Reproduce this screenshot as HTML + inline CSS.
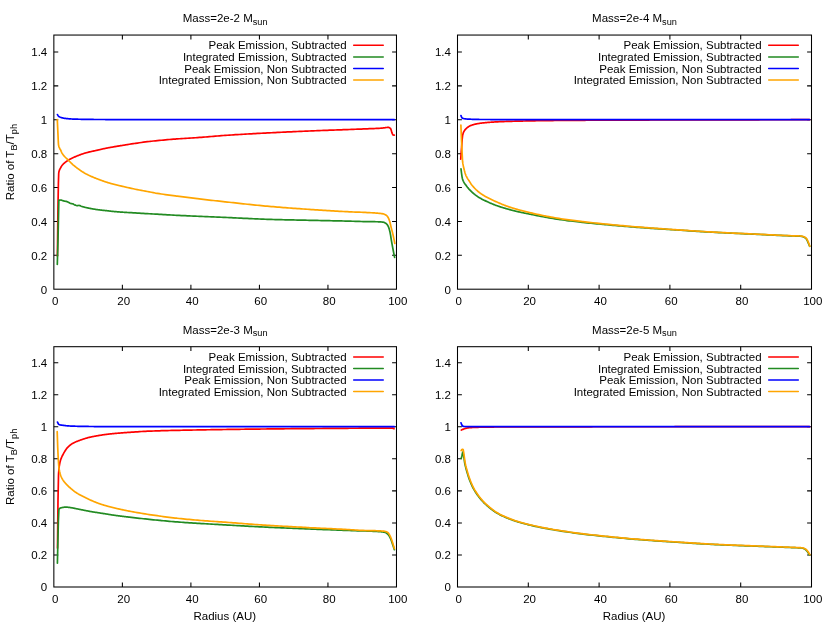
<!DOCTYPE html>
<html><head><meta charset="utf-8"><title>Ratio of TB/Tph</title>
<style>
html,body{margin:0;padding:0;background:#fff;}
svg{display:block;will-change:transform;font-family:"Liberation Sans",sans-serif;font-size:11.5px;fill:#000;}
</style></head>
<body>
<svg width="830" height="623" viewBox="0 0 830 623">
<rect width="830" height="623" fill="#fff" stroke="none"/>
<g><text x="47.25" y="293.60" text-anchor="end">0</text>
<text x="47.25" y="259.71" text-anchor="end">0.2</text>
<text x="47.25" y="225.83" text-anchor="end">0.4</text>
<text x="47.25" y="191.94" text-anchor="end">0.6</text>
<text x="47.25" y="158.05" text-anchor="end">0.8</text>
<text x="47.25" y="124.17" text-anchor="end">1</text>
<text x="47.25" y="90.28" text-anchor="end">1.2</text>
<text x="47.25" y="56.39" text-anchor="end">1.4</text>
<text x="55.15" y="304.70" text-anchor="middle">0</text>
<text x="123.68" y="304.70" text-anchor="middle">20</text>
<text x="192.20" y="304.70" text-anchor="middle">40</text>
<text x="260.73" y="304.70" text-anchor="middle">60</text>
<text x="329.25" y="304.70" text-anchor="middle">80</text>
<text x="397.78" y="304.70" text-anchor="middle">100</text>
<path d="M53.85,255.31h4.4 M396.48,255.31h-4.4 M53.85,221.43h4.4 M396.48,221.43h-4.4 M53.85,187.54h4.4 M396.48,187.54h-4.4 M53.85,153.65h4.4 M396.48,153.65h-4.4 M53.85,119.77h4.4 M396.48,119.77h-4.4 M53.85,85.88h4.4 M396.48,85.88h-4.4 M53.85,51.99h4.4 M396.48,51.99h-4.4 M122.38,289.20v-4.4 M122.38,35.05v4.4 M190.90,289.20v-4.4 M190.90,35.05v4.4 M259.43,289.20v-4.4 M259.43,35.05v4.4 M327.95,289.20v-4.4 M327.95,35.05v4.4" stroke="#000" stroke-width="1.05" fill="none"/>
<path d="M57.40,256.00 L57.90,212.81 L58.10,200.00 L58.40,183.32 L58.70,173.50 L58.90,171.95 L59.00,171.50 L59.40,170.21 L59.90,169.09 L60.40,168.19 L60.50,168.00 L60.90,167.24 L61.40,166.36 L61.90,165.62 L62.00,165.50 L62.40,165.03 L62.90,164.48 L63.40,163.96 L63.90,163.48 L64.40,163.02 L64.90,162.59 L65.40,162.19 L65.90,161.81 L66.40,161.44 L66.90,161.09 L67.40,160.76 L67.90,160.43 L68.10,160.30 L68.40,160.11 L68.90,159.80 L69.40,159.51 L69.90,159.23 L70.40,158.96 L70.90,158.70 L71.40,158.45 L71.90,158.20 L72.40,157.97 L72.90,157.73 L73.40,157.51 L73.90,157.29 L74.10,157.20 L74.40,157.07 L74.90,156.85 L75.40,156.64 L75.90,156.43 L76.40,156.22 L76.90,156.02 L77.40,155.81 L77.90,155.61 L78.40,155.42 L78.90,155.22 L79.40,155.03 L79.90,154.84 L80.40,154.66 L80.90,154.48 L81.40,154.30 L81.90,154.13 L82.40,153.95 L82.90,153.79 L83.40,153.62 L83.90,153.46 L84.40,153.31 L84.90,153.15 L85.40,153.00 L85.90,152.86 L86.10,152.80 L86.40,152.72 L86.90,152.58 L87.40,152.45 L87.90,152.32 L88.40,152.19 L88.90,152.07 L89.40,151.95 L89.90,151.83 L90.40,151.71 L90.90,151.60 L91.40,151.49 L91.90,151.38 L92.40,151.27 L92.90,151.16 L93.40,151.05 L93.90,150.95 L94.40,150.84 L94.90,150.73 L95.40,150.62 L95.90,150.52 L96.40,150.41 L96.90,150.30 L97.40,150.18 L97.90,150.07 L98.20,150.00 L98.40,149.95 L98.90,149.84 L99.40,149.72 L99.90,149.59 L100.40,149.47 L100.90,149.35 L101.40,149.23 L101.90,149.11 L102.40,149.00 L102.90,148.88 L103.40,148.77 L103.90,148.66 L104.20,148.60 L104.40,148.56 L104.90,148.46 L105.40,148.36 L105.90,148.26 L106.40,148.16 L106.90,148.06 L107.40,147.97 L107.90,147.87 L108.40,147.78 L108.90,147.68 L109.40,147.59 L109.90,147.50 L110.40,147.41 L110.90,147.32 L111.40,147.23 L111.90,147.15 L112.40,147.06 L112.90,146.97 L113.40,146.88 L113.90,146.80 L114.40,146.71 L114.90,146.63 L115.40,146.55 L115.90,146.46 L116.40,146.38 L116.90,146.29 L117.40,146.21 L117.90,146.13 L118.40,146.05 L118.90,145.96 L119.40,145.88 L119.90,145.80 L120.40,145.71 L120.90,145.63 L121.40,145.55 L121.90,145.47 L122.30,145.40 L122.40,145.38 L122.90,145.30 L123.40,145.22 L123.90,145.13 L124.40,145.05 L124.90,144.97 L125.40,144.89 L125.90,144.81 L126.40,144.72 L126.90,144.64 L127.40,144.56 L129.40,144.24 L131.40,143.93 L133.40,143.63 L134.30,143.50 L135.40,143.34 L137.40,143.05 L139.40,142.77 L141.40,142.49 L143.40,142.21 L145.40,141.95 L147.40,141.70 L149.40,141.47 L150.00,141.40 L151.40,141.25 L153.40,141.03 L155.40,140.82 L157.40,140.62 L159.40,140.42 L161.40,140.23 L163.40,140.04 L165.40,139.86 L167.40,139.69 L169.40,139.51 L171.40,139.35 L173.40,139.19 L175.40,139.03 L176.50,138.95 L177.40,138.88 L179.40,138.74 L181.40,138.61 L183.40,138.48 L185.40,138.36 L187.40,138.24 L189.40,138.12 L191.40,138.00 L193.40,137.88 L195.40,137.75 L197.40,137.61 L197.60,137.60 L199.40,137.47 L201.40,137.32 L203.40,137.16 L205.40,136.99 L207.40,136.82 L209.40,136.65 L211.40,136.48 L213.40,136.31 L215.40,136.14 L217.40,135.98 L219.40,135.82 L221.40,135.66 L223.40,135.51 L225.00,135.40 L225.40,135.37 L227.40,135.24 L229.40,135.11 L231.40,134.98 L233.40,134.85 L235.40,134.72 L237.40,134.60 L239.40,134.48 L241.40,134.36 L243.40,134.24 L245.40,134.13 L247.40,134.01 L249.40,133.90 L251.40,133.79 L253.40,133.68 L255.40,133.57 L257.40,133.46 L259.40,133.36 L261.40,133.25 L263.40,133.15 L265.40,133.04 L267.20,132.95 L267.40,132.94 L269.40,132.84 L271.40,132.74 L273.40,132.64 L275.40,132.54 L277.40,132.44 L279.40,132.34 L281.40,132.25 L283.40,132.15 L285.40,132.06 L287.40,131.96 L289.40,131.87 L291.40,131.78 L293.40,131.69 L295.40,131.60 L297.40,131.51 L299.40,131.42 L301.40,131.34 L303.40,131.25 L305.40,131.16 L307.40,131.08 L309.30,131.00 L309.40,131.00 L311.40,130.91 L313.40,130.83 L315.40,130.75 L317.40,130.67 L319.40,130.59 L321.40,130.52 L323.40,130.44 L325.40,130.37 L327.40,130.29 L329.40,130.22 L331.40,130.14 L333.40,130.07 L335.40,130.00 L337.40,129.92 L339.40,129.85 L341.40,129.78 L343.40,129.70 L345.40,129.63 L347.40,129.55 L349.40,129.48 L351.40,129.40 L351.50,129.40 L353.40,129.33 L355.40,129.25 L357.40,129.18 L359.40,129.11 L361.40,129.03 L363.40,128.96 L365.40,128.88 L367.40,128.81 L369.40,128.72 L370.00,128.70 L371.40,128.64 L373.40,128.57 L374.30,128.53 L374.80,128.51 L375.30,128.49 L375.80,128.47 L376.30,128.45 L376.80,128.43 L377.30,128.40 L377.80,128.38 L378.30,128.36 L378.80,128.33 L379.30,128.30 L379.80,128.27 L380.30,128.24 L380.80,128.21 L381.00,128.20 L381.30,128.18 L381.80,128.13 L382.30,128.08 L382.80,128.01 L383.30,127.94 L383.80,127.87 L384.30,127.80 L384.80,127.72 L385.30,127.65 L385.80,127.59 L386.30,127.53 L386.80,127.48 L387.30,127.44 L387.80,127.41 L388.30,127.40 L388.40,127.40 L388.80,127.45 L389.30,127.63 L389.80,127.93 L390.30,128.32 L390.50,128.50 L390.80,129.00 L391.30,130.56 L391.80,132.37 L392.20,133.50 L392.30,133.72 L392.80,134.73 L393.00,134.90 L393.30,134.98 L393.80,135.07 L394.30,135.10" fill="none" stroke="#ff0000" stroke-width="1.7" stroke-linejoin="round" stroke-linecap="round"/>
<path d="M57.30,264.40 L57.80,247.20 L58.10,235.70 L58.30,225.72 L58.80,201.41 L58.90,200.30 L59.30,200.18 L59.80,200.08 L60.30,200.03 L60.80,200.00 L61.00,200.00 L61.30,200.03 L61.80,200.19 L62.30,200.42 L62.80,200.66 L63.20,200.80 L63.30,200.83 L63.80,200.95 L64.30,201.05 L64.80,201.14 L65.30,201.23 L65.80,201.33 L66.30,201.44 L66.80,201.58 L66.85,201.60 L67.30,201.78 L67.80,202.04 L68.30,202.30 L68.80,202.57 L69.30,202.85 L69.80,203.12 L70.30,203.34 L70.50,203.40 L70.80,203.47 L71.30,203.56 L71.80,203.64 L72.30,203.73 L72.60,203.80 L72.80,203.86 L73.30,204.09 L73.80,204.38 L74.30,204.66 L74.80,204.90 L75.30,205.11 L75.80,205.32 L76.30,205.49 L76.80,205.59 L77.00,205.60 L77.30,205.59 L77.80,205.55 L78.30,205.50 L78.80,205.46 L79.10,205.45 L79.30,205.46 L79.80,205.60 L80.30,205.84 L80.80,206.09 L81.30,206.30 L81.80,206.46 L82.30,206.61 L82.80,206.76 L83.30,206.89 L83.80,207.03 L84.30,207.15 L84.80,207.28 L84.90,207.30 L85.30,207.40 L85.80,207.51 L86.30,207.63 L86.80,207.74 L87.30,207.85 L87.80,207.95 L88.30,208.06 L88.80,208.16 L89.30,208.26 L89.80,208.36 L90.30,208.45 L90.80,208.55 L91.30,208.64 L91.80,208.73 L92.20,208.80 L92.30,208.82 L92.80,208.90 L93.30,208.99 L93.80,209.07 L94.30,209.15 L94.80,209.24 L95.30,209.31 L95.80,209.39 L96.30,209.47 L96.80,209.54 L97.30,209.61 L97.80,209.69 L98.30,209.75 L98.80,209.82 L99.30,209.89 L99.40,209.90 L99.80,209.95 L100.30,210.01 L100.80,210.07 L101.30,210.13 L101.80,210.19 L102.30,210.24 L102.80,210.30 L103.30,210.35 L103.80,210.40 L104.30,210.46 L104.80,210.51 L105.30,210.56 L105.80,210.61 L106.30,210.67 L106.60,210.70 L106.80,210.72 L107.30,210.78 L107.80,210.83 L108.30,210.89 L108.80,210.95 L109.30,211.00 L109.80,211.06 L110.30,211.12 L110.80,211.17 L111.30,211.23 L111.80,211.29 L112.30,211.34 L112.80,211.39 L113.30,211.45 L113.80,211.50 L114.30,211.55 L114.80,211.59 L115.30,211.64 L115.80,211.68 L116.00,211.70 L116.30,211.72 L116.80,211.77 L117.30,211.81 L117.80,211.84 L118.30,211.88 L118.80,211.92 L119.30,211.96 L119.80,211.99 L120.30,212.03 L120.80,212.07 L121.30,212.10 L121.80,212.13 L122.30,212.17 L122.80,212.20 L123.30,212.23 L123.80,212.27 L124.30,212.30 L124.80,212.33 L125.30,212.36 L125.80,212.39 L126.30,212.42 L126.80,212.45 L127.30,212.48 L129.30,212.60 L131.30,212.72 L133.30,212.84 L134.30,212.90 L135.30,212.96 L137.30,213.08 L139.30,213.20 L141.30,213.31 L143.30,213.42 L145.30,213.54 L147.30,213.65 L149.30,213.76 L151.30,213.87 L153.30,213.98 L155.30,214.09 L155.40,214.10 L157.30,214.21 L159.30,214.33 L161.30,214.44 L163.30,214.56 L165.30,214.68 L167.30,214.80 L169.30,214.91 L171.30,215.02 L173.30,215.13 L175.30,215.24 L176.50,215.30 L177.30,215.34 L179.30,215.44 L181.30,215.53 L183.30,215.62 L185.30,215.72 L187.30,215.80 L189.30,215.89 L191.30,215.98 L193.30,216.06 L195.30,216.15 L197.30,216.24 L197.60,216.25 L199.30,216.32 L201.30,216.41 L203.30,216.49 L205.30,216.58 L207.30,216.66 L209.30,216.74 L211.30,216.83 L213.30,216.91 L215.30,216.99 L217.30,217.07 L219.30,217.16 L221.30,217.24 L223.30,217.33 L225.00,217.40 L225.30,217.41 L227.30,217.50 L229.30,217.59 L231.30,217.69 L233.30,217.78 L235.30,217.88 L237.30,217.98 L239.30,218.08 L241.30,218.18 L243.30,218.28 L245.30,218.38 L247.30,218.47 L249.30,218.57 L251.30,218.66 L253.30,218.76 L255.30,218.85 L257.30,218.93 L259.30,219.01 L261.30,219.09 L263.30,219.17 L265.30,219.24 L267.20,219.30 L267.30,219.30 L269.30,219.36 L271.30,219.42 L273.30,219.48 L275.30,219.53 L277.30,219.59 L279.30,219.64 L281.30,219.68 L283.30,219.73 L285.30,219.78 L287.30,219.82 L289.30,219.87 L291.30,219.91 L293.30,219.96 L295.30,220.00 L297.30,220.04 L299.30,220.08 L301.30,220.13 L303.30,220.17 L305.30,220.21 L307.30,220.26 L309.30,220.30 L309.30,220.30 L311.30,220.34 L313.30,220.39 L315.30,220.43 L317.30,220.47 L319.30,220.51 L321.30,220.55 L323.30,220.59 L325.30,220.63 L327.30,220.67 L329.30,220.71 L331.30,220.75 L333.30,220.79 L335.30,220.83 L337.30,220.87 L339.30,220.91 L341.30,220.96 L343.30,221.00 L345.30,221.05 L347.30,221.09 L349.30,221.14 L351.30,221.19 L351.50,221.20 L353.30,221.25 L355.30,221.32 L357.30,221.39 L359.30,221.46 L361.30,221.52 L363.30,221.57 L364.50,221.60 L365.30,221.61 L367.30,221.64 L369.30,221.66 L371.30,221.68 L373.30,221.70 L374.60,221.72 L375.10,221.72 L375.60,221.73 L376.10,221.74 L376.60,221.75 L377.10,221.76 L377.60,221.77 L378.10,221.78 L378.60,221.79 L378.90,221.80 L379.10,221.81 L379.60,221.83 L380.10,221.85 L380.60,221.89 L381.10,221.93 L381.60,221.98 L382.10,222.03 L382.60,222.10 L383.10,222.17 L383.30,222.20 L383.60,222.26 L384.10,222.41 L384.60,222.62 L385.10,222.88 L385.60,223.18 L386.10,223.53 L386.20,223.60 L386.60,223.95 L387.10,224.53 L387.60,225.25 L388.10,226.12 L388.30,226.50 L388.60,227.17 L389.10,228.62 L389.60,230.41 L389.80,231.20 L390.10,232.59 L390.60,235.48 L391.10,238.68 L391.60,241.70 L392.10,244.44 L392.60,247.13 L393.10,249.77 L393.60,252.35 L394.10,254.86 L394.60,257.30" fill="none" stroke="#228b22" stroke-width="1.7" stroke-linejoin="round" stroke-linecap="round"/>
<path d="M57.45,114.60 L57.95,115.43 L58.40,116.00 L58.45,116.05 L58.95,116.49 L59.45,116.82 L59.60,116.90 L59.95,117.07 L60.45,117.29 L60.95,117.48 L61.45,117.64 L61.95,117.79 L62.00,117.80 L62.45,117.91 L62.95,118.03 L63.45,118.13 L63.95,118.22 L64.45,118.29 L64.50,118.30 L64.95,118.36 L65.45,118.43 L65.95,118.49 L66.45,118.55 L66.95,118.61 L67.45,118.66 L67.95,118.71 L68.45,118.76 L68.95,118.80 L69.45,118.85 L69.95,118.88 L70.45,118.92 L70.95,118.95 L71.45,118.99 L71.70,119.00 L71.95,119.01 L72.45,119.04 L72.95,119.06 L73.45,119.09 L73.95,119.11 L74.45,119.12 L74.95,119.14 L75.30,119.15 L75.45,119.15 L75.95,119.17 L76.45,119.18 L76.95,119.19 L77.45,119.20 L77.95,119.21 L78.45,119.23 L78.95,119.24 L79.45,119.25 L79.95,119.26 L80.45,119.27 L80.95,119.28 L81.45,119.29 L81.95,119.30 L82.45,119.31 L82.95,119.32 L83.45,119.33 L83.95,119.34 L84.45,119.35 L84.95,119.36 L85.45,119.37 L85.95,119.37 L86.45,119.38 L86.95,119.39 L87.45,119.40 L87.95,119.41 L88.45,119.41 L88.95,119.42 L89.45,119.43 L89.95,119.43 L90.45,119.44 L90.95,119.45 L91.45,119.45 L91.95,119.46 L92.45,119.46 L92.95,119.47 L93.45,119.47 L93.95,119.48 L94.45,119.48 L94.95,119.48 L95.45,119.49 L95.95,119.49 L96.45,119.49 L96.95,119.50 L97.45,119.50 L97.95,119.50 L98.00,119.50 L98.45,119.50 L98.95,119.50 L99.45,119.51 L99.95,119.51 L100.45,119.51 L100.95,119.51 L101.45,119.51 L101.95,119.51 L102.45,119.52 L102.95,119.52 L103.45,119.52 L103.95,119.52 L104.45,119.52 L104.95,119.52 L105.45,119.53 L105.95,119.53 L106.45,119.53 L106.95,119.53 L107.45,119.53 L107.95,119.53 L108.45,119.54 L108.95,119.54 L109.45,119.54 L109.95,119.54 L110.45,119.54 L110.95,119.54 L111.45,119.54 L111.95,119.55 L112.45,119.55 L112.95,119.55 L113.45,119.55 L113.95,119.55 L114.45,119.55 L114.95,119.55 L115.45,119.56 L115.95,119.56 L116.45,119.56 L116.95,119.56 L117.45,119.56 L117.95,119.56 L118.45,119.56 L118.95,119.56 L119.45,119.57 L119.95,119.57 L120.45,119.57 L120.95,119.57 L121.45,119.57 L121.95,119.57 L122.45,119.57 L122.95,119.57 L123.45,119.57 L123.95,119.57 L124.45,119.58 L124.95,119.58 L125.45,119.58 L125.95,119.58 L126.45,119.58 L126.95,119.58 L127.45,119.58 L129.45,119.58 L131.45,119.59 L133.45,119.59 L135.45,119.59 L137.45,119.59 L139.45,119.60 L141.45,119.60 L143.45,119.60 L145.45,119.60 L147.45,119.60 L149.45,119.60 L150.00,119.60 L151.45,119.60 L153.45,119.60 L155.45,119.60 L157.45,119.60 L159.45,119.60 L161.45,119.60 L163.45,119.60 L165.45,119.60 L167.45,119.60 L169.45,119.60 L171.45,119.60 L173.45,119.60 L175.45,119.60 L177.45,119.60 L179.45,119.60 L181.45,119.60 L183.45,119.60 L185.45,119.60 L187.45,119.60 L189.45,119.60 L191.45,119.60 L193.45,119.60 L195.45,119.60 L197.45,119.60 L199.45,119.60 L201.45,119.60 L203.45,119.60 L205.45,119.60 L207.45,119.60 L209.45,119.60 L211.45,119.60 L213.45,119.60 L215.45,119.60 L217.45,119.60 L219.45,119.60 L221.45,119.60 L223.45,119.60 L225.45,119.60 L227.45,119.60 L229.45,119.60 L231.45,119.60 L233.45,119.60 L235.45,119.60 L237.45,119.60 L239.45,119.60 L241.45,119.60 L243.45,119.60 L245.45,119.60 L247.45,119.60 L249.45,119.60 L251.45,119.60 L253.45,119.60 L255.45,119.60 L257.45,119.60 L259.45,119.60 L261.45,119.60 L263.45,119.60 L265.45,119.60 L267.45,119.60 L269.45,119.60 L271.45,119.60 L273.45,119.60 L275.45,119.60 L277.45,119.60 L279.45,119.60 L281.45,119.60 L283.45,119.60 L285.45,119.60 L287.45,119.60 L289.45,119.60 L291.45,119.60 L293.45,119.60 L295.45,119.60 L297.45,119.60 L299.45,119.60 L301.45,119.60 L303.45,119.60 L305.45,119.60 L307.45,119.60 L309.45,119.60 L311.45,119.60 L313.45,119.60 L315.45,119.60 L317.45,119.60 L319.45,119.60 L321.45,119.60 L323.45,119.60 L325.45,119.60 L327.45,119.60 L329.45,119.60 L331.45,119.60 L333.45,119.60 L335.45,119.60 L337.45,119.60 L339.45,119.60 L341.45,119.60 L343.45,119.60 L345.45,119.60 L347.45,119.60 L349.45,119.60 L351.45,119.60 L353.45,119.60 L355.45,119.60 L357.45,119.60 L359.45,119.60 L361.45,119.60 L363.45,119.60 L365.45,119.60 L367.45,119.60 L369.45,119.60 L371.45,119.60 L373.45,119.60 L374.30,119.60 L374.80,119.60 L375.30,119.60 L375.80,119.60 L376.30,119.60 L376.80,119.60 L377.30,119.60 L377.80,119.60 L378.30,119.60 L378.80,119.60 L379.30,119.60 L379.80,119.60 L380.30,119.60 L380.80,119.60 L381.30,119.60 L381.80,119.60 L382.30,119.60 L382.80,119.60 L383.30,119.60 L383.80,119.60 L384.30,119.60 L384.80,119.60 L385.30,119.60 L385.80,119.60 L386.30,119.60 L386.80,119.60 L387.30,119.60 L387.80,119.60 L388.30,119.60 L388.80,119.60 L389.30,119.60 L389.80,119.60 L390.30,119.60 L390.80,119.60 L391.30,119.60 L391.80,119.60 L392.30,119.60 L392.80,119.60 L393.30,119.60 L393.80,119.60 L394.30,119.60" fill="none" stroke="#0000ff" stroke-width="1.7" stroke-linejoin="round" stroke-linecap="round"/>
<path d="M57.30,119.60 L57.80,130.69 L58.00,134.90 L58.30,141.93 L58.50,144.80 L58.80,146.16 L59.30,147.71 L59.80,148.68 L60.30,149.45 L60.80,150.40 L61.30,151.61 L61.80,152.74 L62.00,153.10 L62.30,153.57 L62.80,154.31 L63.30,154.99 L63.80,155.62 L64.30,156.20 L64.80,156.74 L65.30,157.26 L65.80,157.75 L66.30,158.24 L66.80,158.72 L67.30,159.20 L67.80,159.69 L68.10,160.00 L68.30,160.21 L68.80,160.72 L69.30,161.23 L69.80,161.74 L70.30,162.23 L70.80,162.73 L71.30,163.21 L71.80,163.68 L72.30,164.15 L72.80,164.60 L73.30,165.03 L73.80,165.45 L74.10,165.70 L74.30,165.86 L74.80,166.26 L75.30,166.66 L75.80,167.05 L76.30,167.44 L76.80,167.82 L77.30,168.20 L77.80,168.57 L78.30,168.94 L78.80,169.30 L79.30,169.66 L79.80,170.01 L80.30,170.35 L80.80,170.69 L81.30,171.03 L81.80,171.35 L82.30,171.68 L82.80,171.99 L83.30,172.30 L83.80,172.60 L84.30,172.90 L84.80,173.18 L85.30,173.47 L85.80,173.74 L86.10,173.90 L86.30,174.01 L86.80,174.27 L87.30,174.52 L87.80,174.78 L88.30,175.02 L88.80,175.27 L89.30,175.50 L89.80,175.74 L90.30,175.97 L90.80,176.20 L91.30,176.42 L91.80,176.64 L92.30,176.86 L92.80,177.07 L93.30,177.28 L93.80,177.49 L94.30,177.69 L94.80,177.90 L95.30,178.10 L95.80,178.29 L96.30,178.49 L96.80,178.69 L97.30,178.88 L97.80,179.07 L98.30,179.26 L98.80,179.45 L99.30,179.64 L99.80,179.83 L100.00,179.90 L100.30,180.01 L100.80,180.20 L101.30,180.38 L101.80,180.56 L102.30,180.74 L102.80,180.92 L103.30,181.10 L103.80,181.27 L104.30,181.44 L104.80,181.61 L105.30,181.78 L105.80,181.94 L106.30,182.11 L106.80,182.27 L107.30,182.43 L107.80,182.58 L108.30,182.74 L108.80,182.89 L109.30,183.04 L109.80,183.18 L110.20,183.30 L110.30,183.33 L110.80,183.47 L111.30,183.61 L111.80,183.74 L112.30,183.88 L112.80,184.01 L113.30,184.14 L113.80,184.27 L114.30,184.40 L114.80,184.52 L115.30,184.64 L115.80,184.77 L116.30,184.89 L116.80,185.01 L117.30,185.13 L117.80,185.25 L118.30,185.36 L118.80,185.48 L119.30,185.60 L119.80,185.71 L120.30,185.83 L120.80,185.95 L121.30,186.07 L121.80,186.18 L122.30,186.30 L122.80,186.42 L123.30,186.54 L123.80,186.65 L124.30,186.77 L124.80,186.89 L125.30,187.00 L125.80,187.12 L126.30,187.24 L126.80,187.35 L127.30,187.46 L129.30,187.92 L131.30,188.36 L133.30,188.79 L134.30,189.00 L135.30,189.21 L137.30,189.60 L139.30,189.99 L141.30,190.37 L143.30,190.74 L145.30,191.11 L147.30,191.49 L149.30,191.87 L150.00,192.00 L151.30,192.26 L153.30,192.66 L155.30,193.03 L155.40,193.05 L157.30,193.36 L159.30,193.68 L161.30,193.98 L163.30,194.27 L165.30,194.56 L167.30,194.83 L169.30,195.10 L171.30,195.36 L173.30,195.63 L175.30,195.89 L176.50,196.05 L177.30,196.16 L179.30,196.42 L181.30,196.68 L183.30,196.94 L185.30,197.19 L187.30,197.44 L189.30,197.69 L191.30,197.94 L193.30,198.18 L195.30,198.42 L197.30,198.66 L197.60,198.70 L199.30,198.90 L201.30,199.14 L203.30,199.37 L205.30,199.60 L207.30,199.83 L209.30,200.06 L211.30,200.29 L213.30,200.51 L215.30,200.73 L217.30,200.96 L219.30,201.18 L221.30,201.40 L223.30,201.61 L225.00,201.80 L225.30,201.83 L227.30,202.05 L229.30,202.27 L231.30,202.49 L233.30,202.71 L235.30,202.93 L237.30,203.15 L239.30,203.37 L241.30,203.59 L243.30,203.81 L245.30,204.02 L247.30,204.24 L249.30,204.45 L251.30,204.66 L253.30,204.87 L255.30,205.07 L257.30,205.27 L259.30,205.47 L261.30,205.66 L263.30,205.85 L265.30,206.03 L267.20,206.20 L267.30,206.21 L269.30,206.38 L271.30,206.55 L273.30,206.72 L275.30,206.89 L277.30,207.05 L279.30,207.22 L281.30,207.38 L283.30,207.53 L285.30,207.69 L287.30,207.84 L289.30,207.99 L291.30,208.14 L293.30,208.29 L295.30,208.43 L297.30,208.57 L299.30,208.72 L301.30,208.86 L303.30,208.99 L305.30,209.13 L307.30,209.27 L309.30,209.40 L309.30,209.40 L311.30,209.53 L313.30,209.67 L315.30,209.80 L317.30,209.93 L319.30,210.06 L321.30,210.19 L323.30,210.32 L325.30,210.45 L327.30,210.57 L329.30,210.70 L331.30,210.82 L333.30,210.94 L335.30,211.06 L337.30,211.17 L339.30,211.28 L341.30,211.39 L343.30,211.50 L345.30,211.60 L347.30,211.70 L349.30,211.80 L351.30,211.89 L351.50,211.90 L353.30,211.98 L355.30,212.05 L357.30,212.12 L359.30,212.19 L361.30,212.26 L363.30,212.35 L364.50,212.40 L365.30,212.44 L367.30,212.53 L369.30,212.64 L371.30,212.75 L373.30,212.87 L374.80,212.97 L375.30,213.01 L375.80,213.04 L376.30,213.08 L376.80,213.12 L377.30,213.16 L377.80,213.20 L378.30,213.25 L378.80,213.29 L378.90,213.30 L379.30,213.34 L379.80,213.39 L380.30,213.44 L380.80,213.49 L381.30,213.56 L381.80,213.63 L382.30,213.71 L382.80,213.80 L383.30,213.90 L383.80,214.03 L384.30,214.20 L384.80,214.41 L385.30,214.65 L385.80,214.94 L386.20,215.20 L386.30,215.27 L386.80,215.71 L387.30,216.29 L387.80,216.99 L388.30,217.80 L388.80,218.86 L389.30,220.23 L389.80,221.80 L390.30,223.70 L390.80,225.90 L391.20,227.60 L391.30,228.00 L391.80,229.89 L392.30,231.78 L392.70,233.40 L392.80,233.83 L393.30,236.05 L393.80,238.40 L394.30,240.89 L394.80,243.50" fill="none" stroke="#ffa500" stroke-width="1.7" stroke-linejoin="round" stroke-linecap="round"/>
<rect x="53.85" y="35.05" width="342.63" height="254.15" fill="none" stroke="#000" stroke-width="1.05"/>
<text x="225.17" y="22.05" text-anchor="middle">Mass=2e-2 M<tspan dy="2.6" font-size="9.20">sun</tspan></text>
<text x="346.58" y="49.45" text-anchor="end">Peak Emission, Subtracted</text>
<path d="M353.68,45.35H383.28" stroke="#ff0000" stroke-width="1.5" stroke-linecap="round" fill="none"/>
<text x="346.58" y="60.98" text-anchor="end">Integrated Emission, Subtracted</text>
<path d="M353.68,56.88H383.28" stroke="#228b22" stroke-width="1.5" stroke-linecap="round" fill="none"/>
<text x="346.58" y="72.51" text-anchor="end">Peak Emission, Non Subtracted</text>
<path d="M353.68,68.41H383.28" stroke="#0000ff" stroke-width="1.5" stroke-linecap="round" fill="none"/>
<text x="346.58" y="84.04" text-anchor="end">Integrated Emission, Non Subtracted</text>
<path d="M353.68,79.94H383.28" stroke="#ffa500" stroke-width="1.5" stroke-linecap="round" fill="none"/>
<text transform="translate(14.4,162.12) rotate(-90)" text-anchor="middle">Ratio of T<tspan dy="2.6" font-size="9.20">B</tspan><tspan dy="-2.6">/T</tspan><tspan dy="2.6" font-size="9.20">ph</tspan></text></g>
<g><text x="450.90" y="293.60" text-anchor="end">0</text>
<text x="450.90" y="259.71" text-anchor="end">0.2</text>
<text x="450.90" y="225.83" text-anchor="end">0.4</text>
<text x="450.90" y="191.94" text-anchor="end">0.6</text>
<text x="450.90" y="158.05" text-anchor="end">0.8</text>
<text x="450.90" y="124.17" text-anchor="end">1</text>
<text x="450.90" y="90.28" text-anchor="end">1.2</text>
<text x="450.90" y="56.39" text-anchor="end">1.4</text>
<text x="458.80" y="304.70" text-anchor="middle">0</text>
<text x="529.60" y="304.70" text-anchor="middle">20</text>
<text x="600.40" y="304.70" text-anchor="middle">40</text>
<text x="671.20" y="304.70" text-anchor="middle">60</text>
<text x="742.00" y="304.70" text-anchor="middle">80</text>
<text x="812.80" y="304.70" text-anchor="middle">100</text>
<path d="M457.50,255.31h4.4 M811.50,255.31h-4.4 M457.50,221.43h4.4 M811.50,221.43h-4.4 M457.50,187.54h4.4 M811.50,187.54h-4.4 M457.50,153.65h4.4 M811.50,153.65h-4.4 M457.50,119.77h4.4 M811.50,119.77h-4.4 M457.50,85.88h4.4 M811.50,85.88h-4.4 M457.50,51.99h4.4 M811.50,51.99h-4.4 M528.30,289.20v-4.4 M528.30,35.05v4.4 M599.10,289.20v-4.4 M599.10,35.05v4.4 M669.90,289.20v-4.4 M669.90,35.05v4.4 M740.70,289.20v-4.4 M740.70,35.05v4.4" stroke="#000" stroke-width="1.05" fill="none"/>
<path d="M460.70,159.20 L461.20,152.36 L461.60,147.20 L461.70,145.90 L462.20,139.04 L462.60,135.40 L462.70,134.94 L463.20,133.14 L463.70,131.95 L464.00,131.40 L464.20,131.07 L464.70,130.30 L465.20,129.63 L465.70,129.05 L466.20,128.53 L466.70,128.07 L467.20,127.67 L467.70,127.30 L468.20,126.96 L468.70,126.64 L469.20,126.34 L469.70,126.07 L470.20,125.81 L470.70,125.57 L471.20,125.36 L471.70,125.17 L472.20,124.99 L472.50,124.90 L472.70,124.84 L473.20,124.70 L473.70,124.56 L474.20,124.43 L474.70,124.30 L475.20,124.18 L475.70,124.06 L476.20,123.95 L476.70,123.85 L477.20,123.74 L477.70,123.65 L478.20,123.56 L478.70,123.47 L479.20,123.39 L479.70,123.31 L480.20,123.24 L480.70,123.17 L481.20,123.11 L481.70,123.05 L482.10,123.00 L482.20,122.99 L482.70,122.93 L483.20,122.88 L483.70,122.83 L484.20,122.78 L484.70,122.73 L485.20,122.68 L485.70,122.63 L486.20,122.59 L486.70,122.54 L487.20,122.50 L487.70,122.46 L488.20,122.42 L488.70,122.38 L489.20,122.34 L489.70,122.30 L490.20,122.26 L490.70,122.23 L491.20,122.19 L491.70,122.16 L492.20,122.12 L492.70,122.09 L493.20,122.06 L493.70,122.03 L494.20,122.00 L494.70,121.97 L495.20,121.94 L495.70,121.92 L496.20,121.89 L496.70,121.86 L497.20,121.84 L497.70,121.81 L498.20,121.79 L498.70,121.77 L499.20,121.74 L499.70,121.72 L500.20,121.70 L500.70,121.68 L501.20,121.66 L501.70,121.64 L502.20,121.62 L502.70,121.60 L503.20,121.58 L503.70,121.56 L504.20,121.54 L504.70,121.52 L505.20,121.51 L505.70,121.49 L506.20,121.47 L506.70,121.46 L507.20,121.44 L507.70,121.42 L508.20,121.41 L508.70,121.39 L509.20,121.38 L509.70,121.36 L510.20,121.34 L510.70,121.33 L511.20,121.32 L511.70,121.30 L512.20,121.29 L512.70,121.27 L513.20,121.26 L513.70,121.25 L514.20,121.23 L514.70,121.22 L515.20,121.21 L515.70,121.20 L516.20,121.18 L516.70,121.17 L517.20,121.16 L517.70,121.15 L518.20,121.13 L518.70,121.12 L519.20,121.11 L519.70,121.10 L520.20,121.09 L520.70,121.08 L521.20,121.07 L521.70,121.06 L522.20,121.04 L522.70,121.03 L523.20,121.02 L523.70,121.01 L524.20,121.00 L524.30,121.00 L524.70,120.99 L525.20,120.98 L525.70,120.97 L526.20,120.96 L526.70,120.95 L527.20,120.94 L527.70,120.93 L528.20,120.92 L528.70,120.91 L529.20,120.90 L529.70,120.89 L530.20,120.88 L530.70,120.87 L532.70,120.83 L534.70,120.80 L536.70,120.76 L538.70,120.73 L540.70,120.70 L542.70,120.67 L544.70,120.64 L546.70,120.61 L548.70,120.59 L550.70,120.56 L552.00,120.55 L552.70,120.54 L554.70,120.52 L556.70,120.50 L558.70,120.48 L560.70,120.46 L562.70,120.45 L564.70,120.43 L566.70,120.41 L568.70,120.40 L570.70,120.38 L572.70,120.36 L574.70,120.35 L576.70,120.33 L578.70,120.32 L580.70,120.31 L582.70,120.29 L584.70,120.28 L586.70,120.27 L588.70,120.26 L590.70,120.25 L592.70,120.24 L594.70,120.23 L596.70,120.22 L598.70,120.21 L600.00,120.20 L600.70,120.20 L602.70,120.19 L604.70,120.18 L606.70,120.17 L608.70,120.16 L610.70,120.15 L612.70,120.15 L614.70,120.14 L616.70,120.13 L618.70,120.12 L620.70,120.12 L622.70,120.11 L624.70,120.10 L626.70,120.10 L628.70,120.09 L630.70,120.08 L632.70,120.07 L634.70,120.07 L636.70,120.06 L638.70,120.06 L640.70,120.05 L642.70,120.04 L644.70,120.04 L646.70,120.03 L648.70,120.03 L650.70,120.02 L652.70,120.02 L654.70,120.01 L656.70,120.00 L658.70,120.00 L660.70,119.99 L662.70,119.99 L664.70,119.98 L666.70,119.98 L668.70,119.97 L670.70,119.97 L672.70,119.96 L674.70,119.96 L676.70,119.95 L678.70,119.95 L680.70,119.94 L682.70,119.94 L684.70,119.94 L686.70,119.93 L688.70,119.93 L690.70,119.92 L692.70,119.92 L694.70,119.91 L696.70,119.91 L698.70,119.90 L700.00,119.90 L700.70,119.90 L702.70,119.89 L704.70,119.89 L706.70,119.88 L708.70,119.88 L710.70,119.88 L712.70,119.87 L714.70,119.87 L716.70,119.86 L718.70,119.86 L720.70,119.85 L722.70,119.85 L724.70,119.85 L726.70,119.84 L728.70,119.84 L730.70,119.83 L732.70,119.83 L734.70,119.82 L736.70,119.82 L738.70,119.82 L740.70,119.81 L742.70,119.81 L744.70,119.80 L746.70,119.80 L748.70,119.80 L750.70,119.79 L752.70,119.79 L754.70,119.79 L756.70,119.78 L758.70,119.78 L760.70,119.77 L762.70,119.77 L764.70,119.77 L766.70,119.76 L768.70,119.76 L770.70,119.76 L772.70,119.75 L774.70,119.75 L776.70,119.75 L778.70,119.74 L780.70,119.74 L782.70,119.74 L784.70,119.73 L786.70,119.73 L788.70,119.73 L789.50,119.73 L790.00,119.73 L790.50,119.73 L791.00,119.72 L791.50,119.72 L792.00,119.72 L792.50,119.72 L793.00,119.72 L793.50,119.72 L794.00,119.72 L794.50,119.72 L795.00,119.72 L795.50,119.72 L796.00,119.72 L796.50,119.72 L797.00,119.72 L797.50,119.72 L798.00,119.71 L798.50,119.71 L799.00,119.71 L799.50,119.71 L800.00,119.71 L800.50,119.71 L801.00,119.71 L801.50,119.71 L802.00,119.71 L802.50,119.71 L803.00,119.71 L803.50,119.71 L804.00,119.71 L804.50,119.71 L805.00,119.71 L805.50,119.70 L806.00,119.70 L806.50,119.70 L807.00,119.70 L807.50,119.70 L808.00,119.70 L808.50,119.70 L809.00,119.70 L809.50,119.70" fill="none" stroke="#ff0000" stroke-width="1.7" stroke-linejoin="round" stroke-linecap="round"/>
<path d="M461.00,168.90 L461.50,173.00 L462.00,176.61 L462.50,179.00 L463.00,180.39 L463.50,181.53 L464.00,182.47 L464.50,183.26 L465.00,183.96 L465.50,184.62 L466.00,185.30 L466.50,185.99 L467.00,186.66 L467.50,187.30 L468.00,187.91 L468.50,188.50 L469.00,189.07 L469.50,189.61 L470.00,190.14 L470.50,190.65 L471.00,191.15 L471.50,191.63 L472.00,192.10 L472.50,192.56 L473.00,193.01 L473.50,193.44 L474.00,193.86 L474.50,194.28 L475.00,194.68 L475.50,195.06 L476.00,195.44 L476.50,195.81 L477.00,196.16 L477.50,196.50 L478.00,196.84 L478.10,196.90 L478.50,197.16 L479.00,197.46 L479.50,197.76 L480.00,198.06 L480.50,198.34 L481.00,198.61 L481.50,198.88 L482.00,199.14 L482.50,199.40 L483.00,199.65 L483.50,199.90 L484.00,200.15 L484.10,200.20 L484.50,200.40 L485.00,200.64 L485.50,200.88 L486.00,201.12 L486.50,201.36 L487.00,201.59 L487.50,201.82 L488.00,202.05 L488.50,202.28 L489.00,202.50 L489.50,202.73 L490.00,202.95 L490.50,203.16 L491.00,203.38 L491.50,203.59 L492.00,203.80 L492.50,204.01 L493.00,204.21 L493.50,204.41 L494.00,204.61 L494.50,204.80 L495.00,204.99 L495.50,205.18 L496.00,205.36 L496.10,205.40 L496.50,205.54 L497.00,205.72 L497.50,205.90 L498.00,206.07 L498.50,206.24 L499.00,206.41 L499.50,206.58 L500.00,206.75 L500.50,206.91 L501.00,207.07 L501.50,207.23 L502.00,207.38 L502.50,207.54 L503.00,207.69 L503.50,207.84 L504.00,207.99 L504.50,208.14 L505.00,208.29 L505.50,208.43 L506.00,208.58 L506.50,208.72 L507.00,208.86 L507.50,209.00 L508.00,209.14 L508.20,209.20 L508.50,209.28 L509.00,209.42 L509.50,209.56 L510.00,209.69 L510.50,209.83 L511.00,209.96 L511.50,210.09 L512.00,210.22 L512.50,210.35 L513.00,210.48 L513.50,210.61 L514.00,210.74 L514.50,210.86 L515.00,210.98 L515.50,211.11 L516.00,211.23 L516.50,211.35 L517.00,211.47 L517.50,211.58 L518.00,211.70 L518.50,211.82 L519.00,211.93 L519.50,212.04 L520.00,212.16 L520.20,212.20 L520.50,212.27 L521.00,212.37 L521.50,212.48 L522.00,212.59 L522.50,212.69 L523.00,212.79 L523.50,212.89 L524.00,212.99 L524.50,213.09 L525.00,213.19 L525.50,213.29 L526.00,213.39 L526.50,213.48 L527.00,213.58 L527.50,213.67 L528.00,213.77 L528.50,213.86 L529.00,213.96 L529.50,214.05 L530.00,214.15 L530.50,214.25 L531.00,214.34 L532.30,214.60 L533.00,214.74 L535.00,215.15 L537.00,215.56 L539.00,215.97 L541.00,216.37 L543.00,216.76 L544.30,217.00 L545.00,217.13 L547.00,217.49 L549.00,217.84 L551.00,218.18 L553.00,218.52 L555.00,218.84 L557.00,219.16 L559.00,219.46 L560.00,219.60 L561.00,219.74 L563.00,220.02 L565.00,220.28 L567.00,220.54 L569.00,220.79 L571.00,221.03 L573.00,221.27 L575.00,221.50 L577.00,221.73 L579.00,221.96 L581.00,222.18 L582.10,222.30 L583.00,222.40 L585.00,222.61 L587.00,222.82 L589.00,223.03 L591.00,223.23 L593.00,223.42 L595.00,223.62 L597.00,223.81 L599.00,224.00 L601.00,224.19 L603.00,224.38 L603.80,224.45 L605.00,224.56 L607.00,224.75 L609.00,224.93 L611.00,225.11 L613.00,225.29 L615.00,225.47 L617.00,225.65 L619.00,225.82 L621.00,226.00 L623.00,226.17 L625.00,226.34 L627.00,226.50 L629.00,226.66 L631.00,226.82 L632.00,226.90 L633.00,226.98 L635.00,227.13 L637.00,227.28 L639.00,227.43 L641.00,227.58 L643.00,227.72 L645.00,227.86 L647.00,228.01 L649.00,228.15 L651.00,228.28 L653.00,228.42 L655.00,228.56 L657.00,228.69 L659.00,228.83 L661.00,228.96 L663.00,229.09 L665.00,229.22 L667.00,229.35 L669.00,229.48 L671.00,229.61 L673.00,229.74 L675.00,229.87 L675.40,229.90 L677.00,230.00 L679.00,230.13 L681.00,230.26 L683.00,230.39 L685.00,230.52 L687.00,230.65 L689.00,230.78 L691.00,230.91 L693.00,231.04 L695.00,231.16 L697.00,231.29 L699.00,231.41 L701.00,231.54 L703.00,231.66 L705.00,231.78 L707.00,231.90 L709.00,232.01 L711.00,232.13 L713.00,232.24 L715.00,232.35 L717.00,232.46 L718.70,232.55 L719.00,232.57 L721.00,232.67 L723.00,232.77 L725.00,232.87 L727.00,232.97 L729.00,233.06 L731.00,233.15 L733.00,233.25 L735.00,233.34 L737.00,233.43 L739.00,233.52 L741.00,233.61 L743.00,233.69 L745.00,233.78 L747.00,233.87 L749.00,233.96 L751.00,234.04 L753.00,234.13 L755.00,234.22 L757.00,234.31 L759.00,234.41 L761.00,234.50 L762.10,234.55 L763.00,234.59 L765.00,234.69 L767.00,234.79 L769.00,234.89 L771.00,234.99 L773.00,235.09 L775.00,235.19 L777.00,235.29 L779.00,235.38 L781.00,235.47 L782.80,235.55 L783.00,235.56 L785.00,235.64 L787.00,235.72 L789.00,235.79 L789.60,235.82 L790.10,235.84 L790.60,235.85 L791.10,235.87 L791.60,235.89 L792.10,235.91 L792.60,235.93 L793.10,235.95 L793.60,235.97 L794.10,235.99 L794.60,236.01 L795.10,236.03 L795.60,236.05 L795.70,236.05 L796.10,236.07 L796.60,236.08 L797.10,236.10 L797.60,236.11 L798.10,236.13 L798.60,236.15 L799.10,236.17 L799.60,236.19 L800.10,236.22 L800.50,236.25 L800.60,236.26 L801.10,236.32 L801.60,236.40 L802.10,236.51 L802.60,236.64 L803.10,236.79 L803.60,236.96 L803.70,237.00 L804.10,237.17 L804.60,237.44 L805.10,237.78 L805.60,238.20 L806.10,238.68 L806.30,238.90 L806.60,239.31 L807.10,240.28 L807.60,241.42 L807.90,242.10 L808.10,242.55 L808.60,243.72 L809.10,244.98 L809.60,246.30" fill="none" stroke="#228b22" stroke-width="1.7" stroke-linejoin="round" stroke-linecap="round"/>
<path d="M461.00,115.60 L461.50,116.85 L462.00,117.82 L462.20,118.00 L462.50,118.14 L463.00,118.34 L463.50,118.51 L464.00,118.65 L464.50,118.76 L465.00,118.84 L465.50,118.91 L466.00,118.96 L466.50,119.00 L467.00,119.03 L467.50,119.06 L468.00,119.09 L468.50,119.12 L469.00,119.15 L469.50,119.18 L470.00,119.20 L470.50,119.22 L471.00,119.25 L471.50,119.27 L472.00,119.29 L472.50,119.31 L473.00,119.33 L473.50,119.35 L474.00,119.36 L474.50,119.38 L475.00,119.39 L475.50,119.41 L476.00,119.42 L476.50,119.43 L477.00,119.44 L477.50,119.45 L478.00,119.46 L478.50,119.47 L479.00,119.47 L479.50,119.48 L480.00,119.49 L480.50,119.49 L481.00,119.49 L481.50,119.50 L482.00,119.50 L482.10,119.50 L482.50,119.50 L483.00,119.50 L483.50,119.50 L484.00,119.51 L484.50,119.51 L485.00,119.51 L485.50,119.51 L486.00,119.51 L486.50,119.51 L487.00,119.52 L487.50,119.52 L488.00,119.52 L488.50,119.52 L489.00,119.52 L489.50,119.52 L490.00,119.52 L490.50,119.53 L491.00,119.53 L491.50,119.53 L492.00,119.53 L492.50,119.53 L493.00,119.53 L493.50,119.53 L494.00,119.54 L494.50,119.54 L495.00,119.54 L495.50,119.54 L496.00,119.54 L496.50,119.54 L497.00,119.54 L497.50,119.54 L498.00,119.55 L498.50,119.55 L499.00,119.55 L499.50,119.55 L500.00,119.55 L500.50,119.55 L501.00,119.55 L501.50,119.55 L502.00,119.55 L502.50,119.56 L503.00,119.56 L503.50,119.56 L504.00,119.56 L504.50,119.56 L505.00,119.56 L505.50,119.56 L506.00,119.56 L506.50,119.56 L507.00,119.56 L507.50,119.56 L508.00,119.57 L508.50,119.57 L509.00,119.57 L509.50,119.57 L510.00,119.57 L510.50,119.57 L511.00,119.57 L511.50,119.57 L512.00,119.57 L512.50,119.57 L513.00,119.57 L513.50,119.57 L514.00,119.58 L514.50,119.58 L515.00,119.58 L515.50,119.58 L516.00,119.58 L516.50,119.58 L517.00,119.58 L517.50,119.58 L518.00,119.58 L518.50,119.58 L519.00,119.58 L519.50,119.58 L520.00,119.58 L520.50,119.58 L521.00,119.58 L521.50,119.58 L522.00,119.59 L522.50,119.59 L523.00,119.59 L523.50,119.59 L524.00,119.59 L524.50,119.59 L525.00,119.59 L525.50,119.59 L526.00,119.59 L526.50,119.59 L527.00,119.59 L527.50,119.59 L528.00,119.59 L528.50,119.59 L529.00,119.59 L529.50,119.59 L530.00,119.59 L530.50,119.59 L531.00,119.59 L533.00,119.59 L535.00,119.60 L537.00,119.60 L539.00,119.60 L541.00,119.60 L543.00,119.60 L545.00,119.60 L547.00,119.60 L549.00,119.60 L551.00,119.60 L552.00,119.60 L553.00,119.60 L555.00,119.60 L557.00,119.60 L559.00,119.60 L561.00,119.60 L563.00,119.60 L565.00,119.60 L567.00,119.60 L569.00,119.60 L571.00,119.60 L573.00,119.60 L575.00,119.60 L577.00,119.60 L579.00,119.60 L581.00,119.60 L583.00,119.60 L585.00,119.60 L587.00,119.60 L589.00,119.60 L591.00,119.60 L593.00,119.60 L595.00,119.60 L597.00,119.60 L599.00,119.60 L601.00,119.60 L603.00,119.60 L605.00,119.60 L607.00,119.60 L609.00,119.60 L611.00,119.60 L613.00,119.60 L615.00,119.60 L617.00,119.60 L619.00,119.60 L621.00,119.60 L623.00,119.60 L625.00,119.60 L627.00,119.60 L629.00,119.60 L631.00,119.60 L633.00,119.60 L635.00,119.60 L637.00,119.60 L639.00,119.60 L641.00,119.60 L643.00,119.60 L645.00,119.60 L647.00,119.60 L649.00,119.60 L651.00,119.60 L653.00,119.60 L655.00,119.60 L657.00,119.60 L659.00,119.60 L661.00,119.60 L663.00,119.60 L665.00,119.60 L667.00,119.60 L669.00,119.60 L671.00,119.60 L673.00,119.60 L675.00,119.60 L677.00,119.60 L679.00,119.60 L681.00,119.60 L683.00,119.60 L685.00,119.60 L687.00,119.60 L689.00,119.60 L691.00,119.60 L693.00,119.60 L695.00,119.60 L697.00,119.60 L699.00,119.60 L701.00,119.60 L703.00,119.60 L705.00,119.60 L707.00,119.60 L709.00,119.60 L711.00,119.60 L713.00,119.60 L715.00,119.60 L717.00,119.60 L719.00,119.60 L721.00,119.60 L723.00,119.60 L725.00,119.60 L727.00,119.60 L729.00,119.60 L731.00,119.60 L733.00,119.60 L735.00,119.60 L737.00,119.60 L739.00,119.60 L741.00,119.60 L743.00,119.60 L745.00,119.60 L747.00,119.60 L749.00,119.60 L751.00,119.60 L753.00,119.60 L755.00,119.60 L757.00,119.60 L759.00,119.60 L761.00,119.60 L763.00,119.60 L765.00,119.60 L767.00,119.60 L769.00,119.60 L771.00,119.60 L773.00,119.60 L775.00,119.60 L777.00,119.60 L779.00,119.60 L781.00,119.60 L783.00,119.60 L785.00,119.60 L787.00,119.60 L789.00,119.60 L789.50,119.60 L790.00,119.60 L790.50,119.60 L791.00,119.60 L791.50,119.60 L792.00,119.60 L792.50,119.60 L793.00,119.60 L793.50,119.60 L794.00,119.60 L794.50,119.60 L795.00,119.60 L795.50,119.60 L796.00,119.60 L796.50,119.60 L797.00,119.60 L797.50,119.60 L798.00,119.60 L798.50,119.60 L799.00,119.60 L799.50,119.60 L800.00,119.60 L800.50,119.60 L801.00,119.60 L801.50,119.60 L802.00,119.60 L802.50,119.60 L803.00,119.60 L803.50,119.60 L804.00,119.60 L804.50,119.60 L805.00,119.60 L805.50,119.60 L806.00,119.60 L806.50,119.60 L807.00,119.60 L807.50,119.60 L808.00,119.60 L808.50,119.60 L809.00,119.60 L809.50,119.60" fill="none" stroke="#0000ff" stroke-width="1.7" stroke-linejoin="round" stroke-linecap="round"/>
<path d="M460.90,125.20 L461.40,137.70 L461.50,140.00 L461.90,148.58 L462.20,154.50 L462.40,158.60 L462.60,161.70 L462.90,163.95 L463.40,166.36 L463.60,167.20 L463.90,168.50 L464.40,170.53 L464.90,172.38 L465.40,174.00 L465.90,175.36 L466.00,175.60 L466.40,176.48 L466.90,177.45 L467.40,178.32 L467.90,179.11 L468.40,179.86 L468.90,180.59 L469.40,181.34 L469.50,181.50 L469.90,182.13 L470.40,182.91 L470.90,183.68 L471.40,184.40 L471.90,185.07 L472.00,185.20 L472.40,185.69 L472.90,186.29 L473.40,186.87 L473.90,187.44 L474.40,187.98 L474.90,188.51 L475.40,189.02 L475.90,189.52 L476.40,189.99 L476.90,190.46 L477.40,190.90 L477.90,191.33 L478.10,191.50 L478.40,191.75 L478.90,192.15 L479.40,192.54 L479.90,192.92 L480.40,193.28 L480.90,193.64 L481.40,193.99 L481.90,194.32 L482.40,194.65 L482.90,194.97 L483.40,195.28 L483.90,195.58 L484.10,195.70 L484.40,195.88 L484.90,196.17 L485.40,196.45 L485.90,196.73 L486.40,197.01 L486.90,197.28 L487.40,197.55 L487.90,197.81 L488.40,198.07 L488.90,198.32 L489.40,198.57 L489.90,198.82 L490.40,199.07 L490.90,199.31 L491.40,199.55 L491.90,199.78 L492.40,200.02 L492.90,200.25 L493.40,200.48 L493.90,200.71 L494.40,200.94 L494.90,201.16 L495.40,201.39 L495.90,201.61 L496.10,201.70 L496.40,201.83 L496.90,202.06 L497.40,202.28 L497.90,202.50 L498.40,202.72 L498.90,202.93 L499.40,203.15 L499.90,203.36 L500.40,203.58 L500.90,203.79 L501.40,204.00 L501.90,204.20 L502.40,204.41 L502.90,204.61 L503.40,204.81 L503.90,205.01 L504.40,205.20 L504.90,205.40 L505.40,205.59 L505.90,205.77 L506.40,205.96 L506.90,206.14 L507.40,206.32 L507.90,206.50 L508.20,206.60 L508.40,206.67 L508.90,206.84 L509.40,207.01 L509.90,207.17 L510.40,207.33 L510.90,207.50 L511.40,207.65 L511.90,207.81 L512.40,207.97 L512.90,208.12 L513.40,208.27 L513.90,208.42 L514.40,208.57 L514.90,208.72 L515.40,208.86 L515.90,209.00 L516.40,209.15 L516.90,209.29 L517.40,209.43 L517.90,209.57 L518.40,209.71 L518.90,209.85 L519.40,209.98 L519.90,210.12 L520.20,210.20 L520.40,210.25 L520.90,210.39 L521.40,210.52 L521.90,210.65 L522.40,210.79 L522.90,210.92 L523.40,211.04 L523.90,211.17 L524.40,211.30 L524.90,211.43 L525.40,211.55 L525.90,211.67 L526.40,211.80 L526.90,211.92 L527.40,212.04 L527.90,212.16 L528.40,212.28 L528.90,212.40 L529.40,212.52 L529.90,212.64 L530.40,212.76 L530.90,212.87 L532.30,213.20 L532.90,213.34 L534.90,213.80 L536.90,214.24 L538.90,214.68 L540.90,215.11 L542.90,215.52 L544.30,215.80 L544.90,215.92 L546.90,216.31 L548.90,216.69 L550.90,217.06 L552.90,217.42 L554.90,217.77 L556.90,218.10 L558.90,218.43 L560.00,218.60 L560.90,218.74 L562.90,219.04 L564.90,219.33 L566.90,219.61 L568.90,219.88 L570.90,220.15 L572.90,220.41 L574.90,220.67 L576.90,220.92 L578.90,221.16 L580.90,221.41 L582.10,221.55 L582.90,221.65 L584.90,221.88 L586.90,222.11 L588.90,222.33 L590.90,222.56 L592.90,222.77 L594.90,222.99 L596.90,223.20 L598.90,223.40 L600.90,223.61 L602.90,223.81 L603.80,223.90 L604.90,224.01 L606.90,224.21 L608.90,224.40 L610.90,224.60 L612.90,224.79 L614.90,224.98 L616.90,225.17 L618.90,225.35 L620.90,225.54 L622.90,225.72 L624.90,225.89 L626.90,226.07 L628.90,226.24 L630.90,226.41 L632.00,226.50 L632.90,226.57 L634.90,226.74 L636.90,226.90 L638.90,227.06 L640.90,227.21 L642.90,227.37 L644.90,227.52 L646.90,227.68 L648.90,227.83 L650.90,227.98 L652.90,228.12 L654.90,228.27 L656.90,228.41 L658.90,228.56 L660.90,228.70 L662.90,228.84 L664.90,228.98 L666.90,229.12 L668.90,229.26 L670.90,229.39 L672.90,229.53 L674.90,229.67 L675.40,229.70 L676.90,229.80 L678.90,229.94 L680.90,230.07 L682.90,230.20 L684.90,230.34 L686.90,230.47 L688.90,230.60 L690.90,230.73 L692.90,230.86 L694.90,230.99 L696.90,231.12 L698.90,231.25 L700.90,231.37 L702.90,231.49 L704.90,231.62 L706.90,231.73 L708.90,231.85 L710.90,231.97 L712.90,232.08 L714.90,232.19 L716.90,232.30 L718.70,232.40 L718.90,232.41 L720.90,232.51 L722.90,232.62 L724.90,232.72 L726.90,232.81 L728.90,232.91 L730.90,233.00 L732.90,233.10 L734.90,233.19 L736.90,233.28 L738.90,233.36 L740.90,233.45 L742.90,233.54 L744.90,233.63 L746.90,233.72 L748.90,233.80 L750.90,233.89 L752.90,233.98 L754.90,234.07 L756.90,234.16 L758.90,234.25 L760.90,234.34 L762.10,234.40 L762.90,234.44 L764.90,234.54 L766.90,234.63 L768.90,234.73 L770.90,234.83 L772.90,234.93 L774.90,235.03 L776.90,235.13 L778.90,235.23 L780.90,235.32 L782.80,235.40 L782.90,235.40 L784.90,235.49 L786.90,235.57 L788.90,235.65 L789.80,235.69 L790.30,235.71 L790.80,235.73 L791.30,235.74 L791.80,235.76 L792.30,235.78 L792.80,235.80 L793.30,235.82 L793.80,235.84 L794.30,235.85 L794.80,235.87 L795.30,235.89 L795.70,235.90 L795.80,235.90 L796.30,235.92 L796.80,235.93 L797.30,235.94 L797.80,235.95 L798.30,235.96 L798.80,235.97 L799.30,235.99 L799.80,236.00 L800.30,236.02 L800.80,236.05 L801.30,236.10 L801.80,236.17 L802.30,236.28 L802.80,236.41 L803.30,236.56 L803.80,236.73 L804.00,236.80 L804.30,236.92 L804.80,237.18 L805.30,237.50 L805.80,237.90 L806.30,238.38 L806.60,238.70 L806.80,238.96 L807.30,239.88 L807.80,241.02 L808.20,241.96 L808.30,242.19 L808.80,243.40 L809.30,244.71 L809.80,246.10" fill="none" stroke="#ffa500" stroke-width="1.7" stroke-linejoin="round" stroke-linecap="round"/>
<rect x="457.50" y="35.05" width="354.00" height="254.15" fill="none" stroke="#000" stroke-width="1.05"/>
<text x="634.50" y="22.05" text-anchor="middle">Mass=2e-4 M<tspan dy="2.6" font-size="9.20">sun</tspan></text>
<text x="761.60" y="49.45" text-anchor="end">Peak Emission, Subtracted</text>
<path d="M768.70,45.35H798.30" stroke="#ff0000" stroke-width="1.5" stroke-linecap="round" fill="none"/>
<text x="761.60" y="60.98" text-anchor="end">Integrated Emission, Subtracted</text>
<path d="M768.70,56.88H798.30" stroke="#228b22" stroke-width="1.5" stroke-linecap="round" fill="none"/>
<text x="761.60" y="72.51" text-anchor="end">Peak Emission, Non Subtracted</text>
<path d="M768.70,68.41H798.30" stroke="#0000ff" stroke-width="1.5" stroke-linecap="round" fill="none"/>
<text x="761.60" y="84.04" text-anchor="end">Integrated Emission, Non Subtracted</text>
<path d="M768.70,79.94H798.30" stroke="#ffa500" stroke-width="1.5" stroke-linecap="round" fill="none"/></g>
<g><text x="47.25" y="591.40" text-anchor="end">0</text>
<text x="47.25" y="559.36" text-anchor="end">0.2</text>
<text x="47.25" y="527.32" text-anchor="end">0.4</text>
<text x="47.25" y="495.28" text-anchor="end">0.6</text>
<text x="47.25" y="463.24" text-anchor="end">0.8</text>
<text x="47.25" y="431.20" text-anchor="end">1</text>
<text x="47.25" y="399.16" text-anchor="end">1.2</text>
<text x="47.25" y="367.12" text-anchor="end">1.4</text>
<text x="55.15" y="603.30" text-anchor="middle">0</text>
<text x="123.68" y="603.30" text-anchor="middle">20</text>
<text x="192.20" y="603.30" text-anchor="middle">40</text>
<text x="260.73" y="603.30" text-anchor="middle">60</text>
<text x="329.25" y="603.30" text-anchor="middle">80</text>
<text x="397.78" y="603.30" text-anchor="middle">100</text>
<path d="M53.85,554.96h4.4 M396.48,554.96h-4.4 M53.85,522.92h4.4 M396.48,522.92h-4.4 M53.85,490.88h4.4 M396.48,490.88h-4.4 M53.85,458.84h4.4 M396.48,458.84h-4.4 M53.85,426.80h4.4 M396.48,426.80h-4.4 M53.85,394.76h4.4 M396.48,394.76h-4.4 M53.85,362.72h4.4 M396.48,362.72h-4.4 M122.38,587.00v-4.4 M122.38,346.70v4.4 M190.90,587.00v-4.4 M190.90,346.70v4.4 M259.43,587.00v-4.4 M259.43,346.70v4.4 M327.95,587.00v-4.4 M327.95,346.70v4.4" stroke="#000" stroke-width="1.05" fill="none"/>
<path d="M57.50,548.00 L58.00,500.00 L58.50,475.62 L58.60,473.30 L59.00,468.26 L59.30,466.00 L59.50,464.75 L60.00,462.21 L60.50,460.32 L60.60,460.00 L61.00,458.82 L61.50,457.57 L62.00,456.48 L62.50,455.50 L62.76,455.00 L63.00,454.54 L63.50,453.61 L64.00,452.71 L64.50,451.84 L65.00,451.00 L65.50,450.21 L66.00,449.46 L66.50,448.77 L67.00,448.13 L67.50,447.55 L67.64,447.40 L68.00,447.03 L68.50,446.54 L69.00,446.08 L69.50,445.64 L70.00,445.23 L70.50,444.85 L71.00,444.49 L71.50,444.15 L72.00,443.83 L72.46,443.55 L72.50,443.53 L73.00,443.24 L73.50,442.97 L74.00,442.72 L74.50,442.47 L75.00,442.24 L75.50,442.01 L76.00,441.80 L76.50,441.59 L77.00,441.39 L77.50,441.19 L78.00,441.00 L78.50,440.81 L79.00,440.62 L79.50,440.43 L80.00,440.25 L80.50,440.06 L81.00,439.88 L81.50,439.70 L82.00,439.53 L82.50,439.36 L83.00,439.19 L83.50,439.02 L84.00,438.86 L84.50,438.69 L85.00,438.54 L85.50,438.39 L86.00,438.24 L86.50,438.09 L87.00,437.95 L87.50,437.81 L88.00,437.68 L88.50,437.55 L89.00,437.43 L89.50,437.31 L90.00,437.20 L90.50,437.09 L91.00,436.98 L91.50,436.88 L92.00,436.77 L92.50,436.67 L93.00,436.57 L93.50,436.47 L94.00,436.37 L94.50,436.27 L95.00,436.17 L95.50,436.08 L96.00,435.99 L96.50,435.90 L97.00,435.81 L97.50,435.72 L98.00,435.63 L98.50,435.54 L99.00,435.46 L99.50,435.38 L100.00,435.30 L100.50,435.22 L101.00,435.14 L101.50,435.06 L102.00,434.99 L102.50,434.91 L103.00,434.84 L103.50,434.77 L104.00,434.70 L104.50,434.63 L105.00,434.56 L105.50,434.49 L106.00,434.43 L106.50,434.36 L107.00,434.30 L107.50,434.24 L108.00,434.18 L108.50,434.12 L109.00,434.06 L109.50,434.01 L110.00,433.95 L110.50,433.90 L111.00,433.84 L111.50,433.79 L112.00,433.74 L112.50,433.69 L113.00,433.64 L113.50,433.59 L114.00,433.54 L114.50,433.50 L115.00,433.45 L115.50,433.40 L116.00,433.36 L116.50,433.32 L117.00,433.27 L117.50,433.23 L118.00,433.19 L118.50,433.15 L119.00,433.11 L119.50,433.06 L120.00,433.03 L120.50,432.99 L121.00,432.95 L121.50,432.91 L122.00,432.87 L122.50,432.83 L123.00,432.80 L123.50,432.76 L124.00,432.72 L124.50,432.69 L125.00,432.65 L125.50,432.61 L126.00,432.58 L126.50,432.54 L127.00,432.51 L127.50,432.47 L129.50,432.33 L130.00,432.30 L131.50,432.20 L133.50,432.06 L135.50,431.92 L137.50,431.78 L139.50,431.65 L141.50,431.52 L143.50,431.41 L145.50,431.30 L147.50,431.20 L149.50,431.12 L150.00,431.10 L151.50,431.05 L153.50,430.98 L155.50,430.91 L157.50,430.85 L159.50,430.78 L161.50,430.72 L163.50,430.67 L165.50,430.61 L167.50,430.56 L169.50,430.51 L171.50,430.46 L173.50,430.41 L175.50,430.37 L177.50,430.32 L179.50,430.28 L181.50,430.24 L183.50,430.20 L185.50,430.16 L187.50,430.12 L189.50,430.08 L191.50,430.05 L193.50,430.01 L195.50,429.98 L197.50,429.94 L199.50,429.91 L200.00,429.90 L201.50,429.87 L203.50,429.84 L205.50,429.81 L207.50,429.77 L209.50,429.74 L211.50,429.71 L213.50,429.68 L215.50,429.65 L217.50,429.62 L219.50,429.58 L221.50,429.55 L223.50,429.52 L225.50,429.49 L227.50,429.47 L229.50,429.44 L231.50,429.41 L233.50,429.38 L235.50,429.35 L237.50,429.32 L239.50,429.30 L241.50,429.27 L243.50,429.24 L245.50,429.22 L247.50,429.19 L249.50,429.17 L251.50,429.14 L253.50,429.12 L255.50,429.09 L257.50,429.07 L259.50,429.05 L261.50,429.02 L263.50,429.00 L265.50,428.98 L267.50,428.96 L269.50,428.93 L271.50,428.91 L273.50,428.89 L275.50,428.87 L277.50,428.85 L279.50,428.83 L281.50,428.81 L283.50,428.79 L285.50,428.77 L287.50,428.76 L289.50,428.74 L291.50,428.72 L293.50,428.70 L295.50,428.69 L297.50,428.67 L299.50,428.65 L300.00,428.65 L301.50,428.64 L303.50,428.62 L305.50,428.61 L307.50,428.59 L309.50,428.57 L311.50,428.56 L313.50,428.54 L315.50,428.52 L317.50,428.51 L319.50,428.49 L321.50,428.48 L323.50,428.46 L325.50,428.44 L327.50,428.43 L329.50,428.41 L331.50,428.40 L333.50,428.38 L335.50,428.37 L337.50,428.35 L339.50,428.34 L341.50,428.32 L343.50,428.31 L345.50,428.30 L347.50,428.28 L349.50,428.27 L351.50,428.26 L353.50,428.25 L355.50,428.24 L357.50,428.23 L359.50,428.22 L361.50,428.21 L363.50,428.20 L365.50,428.19 L367.50,428.18 L369.50,428.18 L371.50,428.17 L373.50,428.16 L374.00,428.16 L374.50,428.16 L375.00,428.16 L375.50,428.16 L376.00,428.16 L376.50,428.16 L377.00,428.16 L377.50,428.16 L378.00,428.16 L378.50,428.15 L379.00,428.15 L379.50,428.15 L380.00,428.15 L380.50,428.15 L381.00,428.15 L381.50,428.15 L382.00,428.15 L382.50,428.15 L383.00,428.15 L383.50,428.15 L384.00,428.15 L384.50,428.15 L385.00,428.15 L385.50,428.15 L386.00,428.15 L386.50,428.15 L387.00,428.15 L387.50,428.15 L388.00,428.16 L388.50,428.16 L389.00,428.16 L389.50,428.16 L390.00,428.17 L390.50,428.17 L391.00,428.18 L391.50,428.19 L392.00,428.19 L392.50,428.20 L393.00,428.31 L393.50,428.54 L394.00,428.80" fill="none" stroke="#ff0000" stroke-width="1.7" stroke-linejoin="round" stroke-linecap="round"/>
<path d="M57.40,563.20 L57.90,540.70 L58.40,520.44 L58.90,509.30 L59.40,508.74 L59.90,508.34 L60.40,508.06 L60.90,507.86 L61.40,507.73 L61.90,507.62 L62.00,507.60 L62.40,507.52 L62.90,507.42 L63.40,507.33 L63.90,507.25 L64.40,507.18 L64.90,507.14 L65.40,507.11 L65.80,507.10 L65.90,507.10 L66.40,507.11 L66.90,507.14 L67.40,507.18 L67.90,507.24 L68.40,507.30 L68.90,507.37 L69.40,507.44 L69.90,507.52 L70.40,507.60 L70.90,507.67 L71.10,507.70 L71.40,507.74 L71.90,507.82 L72.40,507.91 L72.90,508.00 L73.40,508.10 L73.90,508.20 L74.40,508.31 L74.90,508.41 L75.40,508.52 L75.90,508.63 L76.40,508.73 L76.90,508.84 L77.40,508.94 L77.70,509.00 L77.90,509.04 L78.40,509.14 L78.90,509.24 L79.40,509.34 L79.90,509.43 L80.40,509.53 L80.90,509.64 L81.40,509.74 L81.90,509.84 L82.40,509.94 L82.90,510.04 L83.40,510.14 L83.90,510.24 L84.40,510.34 L84.90,510.44 L85.40,510.54 L85.90,510.63 L86.40,510.73 L86.90,510.83 L87.40,510.93 L87.90,511.02 L88.40,511.12 L88.90,511.21 L89.40,511.30 L89.90,511.40 L90.40,511.49 L90.90,511.57 L91.40,511.66 L91.90,511.75 L92.20,511.80 L92.40,511.83 L92.90,511.92 L93.40,512.00 L93.90,512.08 L94.40,512.16 L94.90,512.23 L95.40,512.31 L95.90,512.38 L96.40,512.46 L96.90,512.53 L97.40,512.61 L97.90,512.68 L98.40,512.76 L98.90,512.83 L99.40,512.91 L99.90,512.98 L100.00,513.00 L100.40,513.06 L100.90,513.14 L101.40,513.22 L101.90,513.30 L102.40,513.38 L102.90,513.46 L103.40,513.54 L103.90,513.62 L104.40,513.70 L104.90,513.78 L105.40,513.86 L105.90,513.94 L106.40,514.03 L106.90,514.11 L107.40,514.19 L107.90,514.27 L108.40,514.35 L108.90,514.43 L109.40,514.51 L109.90,514.59 L110.40,514.67 L110.90,514.75 L111.40,514.82 L111.90,514.90 L112.40,514.98 L112.90,515.05 L113.40,515.13 L113.90,515.20 L114.40,515.27 L114.90,515.35 L115.40,515.42 L115.90,515.49 L116.00,515.50 L116.40,515.55 L116.90,515.62 L117.40,515.69 L117.90,515.76 L118.40,515.82 L118.90,515.89 L119.40,515.95 L119.90,516.01 L120.40,516.08 L120.90,516.14 L121.40,516.20 L121.90,516.26 L122.40,516.33 L122.90,516.39 L123.40,516.45 L123.90,516.51 L124.40,516.57 L124.90,516.63 L125.40,516.69 L125.90,516.75 L126.40,516.81 L126.90,516.86 L127.40,516.92 L128.90,517.10 L129.40,517.16 L131.40,517.39 L133.40,517.62 L135.40,517.85 L137.40,518.07 L139.40,518.29 L141.40,518.51 L143.40,518.73 L145.00,518.90 L145.40,518.94 L147.40,519.16 L149.40,519.37 L151.40,519.58 L153.40,519.79 L155.40,520.00 L157.40,520.20 L159.40,520.39 L160.00,520.45 L161.40,520.58 L163.40,520.77 L165.40,520.96 L167.40,521.14 L169.40,521.32 L171.40,521.49 L173.40,521.66 L175.40,521.82 L176.50,521.90 L177.40,521.97 L179.40,522.11 L181.40,522.26 L183.40,522.39 L185.40,522.53 L187.40,522.66 L189.40,522.79 L191.40,522.91 L193.40,523.04 L195.40,523.16 L197.40,523.29 L197.60,523.30 L199.40,523.41 L201.40,523.53 L203.40,523.65 L205.40,523.77 L207.40,523.89 L209.40,524.01 L211.40,524.13 L213.40,524.24 L215.40,524.36 L217.40,524.47 L219.40,524.58 L221.40,524.70 L223.40,524.81 L225.00,524.90 L225.40,524.92 L227.40,525.04 L229.40,525.15 L231.40,525.26 L233.40,525.38 L235.40,525.49 L237.40,525.61 L239.40,525.72 L241.40,525.83 L243.40,525.94 L245.40,526.06 L247.40,526.17 L249.40,526.28 L251.40,526.39 L253.40,526.50 L255.40,526.60 L257.40,526.71 L259.40,526.81 L261.40,526.91 L263.40,527.01 L265.40,527.11 L267.20,527.20 L267.40,527.21 L269.40,527.30 L271.40,527.40 L273.40,527.49 L275.40,527.58 L277.40,527.67 L279.40,527.76 L281.40,527.85 L283.40,527.93 L285.40,528.02 L287.40,528.10 L289.40,528.19 L291.40,528.27 L293.40,528.36 L295.40,528.44 L297.40,528.52 L299.40,528.60 L301.40,528.68 L303.40,528.76 L305.40,528.84 L307.40,528.92 L309.30,529.00 L309.40,529.00 L311.40,529.08 L313.40,529.16 L315.40,529.24 L317.40,529.32 L319.40,529.40 L321.40,529.47 L323.40,529.55 L325.40,529.62 L327.40,529.70 L329.40,529.77 L331.40,529.85 L333.40,529.92 L335.40,529.99 L337.40,530.07 L339.40,530.14 L341.40,530.22 L343.40,530.29 L345.40,530.37 L347.40,530.44 L349.40,530.52 L351.40,530.60 L351.50,530.60 L353.40,530.67 L355.40,530.73 L357.40,530.79 L359.40,530.85 L361.40,530.90 L363.40,530.96 L365.40,531.01 L367.40,531.07 L369.40,531.14 L371.40,531.21 L373.40,531.30 L374.40,531.34 L374.90,531.37 L375.40,531.39 L375.90,531.42 L376.40,531.45 L376.90,531.48 L377.40,531.51 L377.90,531.54 L378.40,531.57 L378.90,531.60 L379.40,531.63 L379.90,531.67 L380.40,531.71 L380.90,531.74 L381.00,531.75 L381.40,531.78 L381.90,531.84 L382.40,531.90 L382.90,531.98 L383.40,532.07 L383.90,532.17 L384.40,532.28 L384.90,532.41 L385.20,532.50 L385.40,532.57 L385.90,532.79 L386.40,533.08 L386.90,533.44 L387.40,533.85 L387.90,534.30 L388.00,534.40 L388.40,534.84 L388.90,535.54 L389.40,536.36 L389.90,537.29 L390.40,538.29 L390.50,538.50 L390.90,539.42 L391.40,540.78 L391.90,542.28 L392.40,543.81 L392.80,545.00 L392.90,545.29 L393.40,546.74 L393.90,548.21 L394.40,549.70" fill="none" stroke="#228b22" stroke-width="1.7" stroke-linejoin="round" stroke-linecap="round"/>
<path d="M57.50,422.10 L58.00,423.25 L58.50,424.12 L58.70,424.30 L59.00,424.45 L59.50,424.66 L60.00,424.82 L60.50,424.95 L61.00,425.05 L61.50,425.13 L62.00,425.20 L62.50,425.27 L63.00,425.34 L63.50,425.40 L64.00,425.46 L64.50,425.52 L65.00,425.58 L65.50,425.63 L66.00,425.69 L66.50,425.73 L67.00,425.78 L67.50,425.83 L68.00,425.87 L68.50,425.91 L69.00,425.95 L69.50,425.98 L70.00,426.02 L70.50,426.05 L71.00,426.07 L71.50,426.10 L72.00,426.12 L72.50,426.15 L73.00,426.17 L73.50,426.18 L74.00,426.20 L74.10,426.20 L74.50,426.21 L75.00,426.22 L75.50,426.24 L76.00,426.25 L76.50,426.26 L77.00,426.27 L77.50,426.28 L78.00,426.30 L78.50,426.31 L79.00,426.32 L79.50,426.33 L80.00,426.34 L80.50,426.35 L81.00,426.36 L81.50,426.37 L82.00,426.38 L82.50,426.39 L83.00,426.39 L83.50,426.40 L84.00,426.41 L84.50,426.42 L85.00,426.43 L85.50,426.43 L86.00,426.44 L86.50,426.45 L87.00,426.46 L87.50,426.46 L88.00,426.47 L88.50,426.47 L89.00,426.48 L89.50,426.49 L90.00,426.49 L90.50,426.50 L91.00,426.50 L91.50,426.51 L92.00,426.51 L92.50,426.52 L93.00,426.52 L93.50,426.52 L94.00,426.53 L94.50,426.53 L95.00,426.53 L95.50,426.54 L96.00,426.54 L96.50,426.54 L97.00,426.54 L97.50,426.55 L98.00,426.55 L98.20,426.55 L98.50,426.55 L99.00,426.55 L99.50,426.55 L100.00,426.56 L100.50,426.56 L101.00,426.56 L101.50,426.56 L102.00,426.56 L102.50,426.57 L103.00,426.57 L103.50,426.57 L104.00,426.57 L104.50,426.57 L105.00,426.57 L105.50,426.58 L106.00,426.58 L106.50,426.58 L107.00,426.58 L107.50,426.58 L108.00,426.58 L108.50,426.58 L109.00,426.59 L109.50,426.59 L110.00,426.59 L110.50,426.59 L111.00,426.59 L111.50,426.59 L112.00,426.60 L112.50,426.60 L113.00,426.60 L113.50,426.60 L114.00,426.60 L114.50,426.60 L115.00,426.60 L115.50,426.60 L116.00,426.61 L116.50,426.61 L117.00,426.61 L117.50,426.61 L118.00,426.61 L118.50,426.61 L119.00,426.61 L119.50,426.61 L120.00,426.62 L120.50,426.62 L121.00,426.62 L121.50,426.62 L122.00,426.62 L122.50,426.62 L123.00,426.62 L123.50,426.62 L124.00,426.62 L124.50,426.62 L125.00,426.63 L125.50,426.63 L126.00,426.63 L126.50,426.63 L127.00,426.63 L127.50,426.63 L129.50,426.63 L131.50,426.64 L133.50,426.64 L135.50,426.64 L137.50,426.64 L139.50,426.65 L141.50,426.65 L143.50,426.65 L145.50,426.65 L147.50,426.65 L149.50,426.65 L150.00,426.65 L151.50,426.65 L153.50,426.65 L155.50,426.65 L157.50,426.65 L159.50,426.65 L161.50,426.65 L163.50,426.65 L165.50,426.65 L167.50,426.65 L169.50,426.65 L171.50,426.65 L173.50,426.65 L175.50,426.65 L177.50,426.65 L179.50,426.65 L181.50,426.65 L183.50,426.65 L185.50,426.65 L187.50,426.65 L189.50,426.65 L191.50,426.65 L193.50,426.65 L195.50,426.65 L197.50,426.65 L199.50,426.65 L201.50,426.65 L203.50,426.65 L205.50,426.65 L207.50,426.65 L209.50,426.65 L211.50,426.66 L213.50,426.66 L215.50,426.66 L217.50,426.66 L219.50,426.66 L221.50,426.66 L223.50,426.66 L225.50,426.66 L227.50,426.66 L229.50,426.66 L231.50,426.66 L233.50,426.66 L235.50,426.66 L237.50,426.66 L239.50,426.66 L241.50,426.66 L243.50,426.66 L245.50,426.66 L247.50,426.66 L249.50,426.66 L251.50,426.66 L253.50,426.66 L255.50,426.66 L257.50,426.66 L259.50,426.66 L261.50,426.66 L263.50,426.66 L265.50,426.66 L267.50,426.66 L269.50,426.66 L271.50,426.66 L273.50,426.66 L275.50,426.66 L277.50,426.66 L279.50,426.66 L281.50,426.66 L283.50,426.66 L285.50,426.66 L287.50,426.66 L289.50,426.66 L291.50,426.66 L293.50,426.66 L295.50,426.66 L297.50,426.66 L299.50,426.66 L301.50,426.66 L303.50,426.66 L305.50,426.66 L307.50,426.66 L309.50,426.66 L311.50,426.66 L313.50,426.66 L315.50,426.66 L317.50,426.66 L319.50,426.66 L321.50,426.66 L323.50,426.66 L325.50,426.66 L327.50,426.66 L329.50,426.66 L331.50,426.66 L333.50,426.66 L335.50,426.66 L337.50,426.66 L339.50,426.66 L341.50,426.66 L343.50,426.66 L345.50,426.66 L347.50,426.66 L349.50,426.66 L351.50,426.66 L353.50,426.66 L355.50,426.66 L357.50,426.66 L359.50,426.66 L361.50,426.66 L363.50,426.66 L365.50,426.66 L367.50,426.66 L369.50,426.66 L371.50,426.66 L373.50,426.66 L374.30,426.66 L374.80,426.66 L375.30,426.66 L375.80,426.66 L376.30,426.66 L376.80,426.66 L377.30,426.66 L377.80,426.66 L378.30,426.66 L378.80,426.66 L379.30,426.66 L379.80,426.66 L380.30,426.66 L380.80,426.66 L381.30,426.66 L381.80,426.66 L382.30,426.66 L382.80,426.66 L383.30,426.66 L383.80,426.66 L384.30,426.66 L384.80,426.66 L385.30,426.66 L385.80,426.66 L386.30,426.66 L386.80,426.66 L387.30,426.66 L387.80,426.66 L388.30,426.66 L388.80,426.66 L389.30,426.66 L389.80,426.66 L390.30,426.66 L390.80,426.66 L391.30,426.66 L391.80,426.66 L392.30,426.66 L392.80,426.66 L393.30,426.66 L393.80,426.66 L394.30,426.66" fill="none" stroke="#0000ff" stroke-width="1.7" stroke-linejoin="round" stroke-linecap="round"/>
<path d="M57.20,431.70 L57.70,446.96 L58.20,458.00 L58.70,465.29 L58.90,467.20 L59.20,469.31 L59.70,472.02 L60.20,473.98 L60.30,474.30 L60.70,475.47 L61.20,476.74 L61.70,477.82 L62.20,478.77 L62.70,479.61 L63.20,480.40 L63.70,481.13 L64.20,481.80 L64.70,482.42 L65.20,482.99 L65.70,483.54 L66.20,484.07 L66.70,484.59 L66.80,484.70 L67.20,485.12 L67.70,485.62 L68.20,486.11 L68.70,486.59 L69.20,487.05 L69.70,487.50 L70.20,487.94 L70.50,488.20 L70.70,488.37 L71.20,488.80 L71.70,489.22 L72.20,489.64 L72.70,490.05 L73.20,490.45 L73.70,490.84 L74.20,491.23 L74.70,491.60 L75.20,491.96 L75.70,492.30 L76.00,492.50 L76.20,492.63 L76.70,492.95 L77.20,493.27 L77.70,493.57 L78.20,493.88 L78.70,494.17 L79.20,494.46 L79.70,494.74 L80.20,495.02 L80.70,495.30 L81.20,495.57 L81.70,495.83 L82.20,496.09 L82.70,496.35 L83.20,496.61 L83.70,496.86 L84.20,497.11 L84.70,497.36 L85.20,497.61 L85.70,497.85 L86.00,498.00 L86.20,498.10 L86.70,498.34 L87.20,498.58 L87.70,498.81 L88.20,499.05 L88.70,499.28 L89.20,499.51 L89.70,499.73 L90.20,499.96 L90.70,500.18 L91.20,500.40 L91.70,500.61 L92.20,500.83 L92.70,501.04 L93.20,501.25 L93.70,501.46 L94.20,501.67 L94.70,501.87 L95.20,502.08 L95.70,502.28 L96.00,502.40 L96.20,502.48 L96.70,502.68 L97.20,502.88 L97.70,503.07 L98.20,503.26 L98.70,503.45 L99.20,503.63 L99.70,503.80 L100.00,503.90 L100.20,503.97 L100.70,504.13 L101.20,504.29 L101.70,504.45 L102.20,504.61 L102.70,504.76 L103.20,504.92 L103.70,505.07 L104.20,505.22 L104.70,505.37 L105.20,505.51 L105.70,505.66 L106.20,505.80 L106.70,505.94 L107.20,506.08 L107.70,506.22 L108.20,506.36 L108.70,506.49 L109.20,506.63 L109.70,506.76 L110.20,506.89 L110.70,507.02 L111.20,507.15 L111.70,507.28 L112.20,507.40 L112.70,507.53 L113.20,507.65 L113.70,507.77 L114.20,507.89 L114.70,508.01 L115.20,508.13 L115.70,508.25 L116.20,508.37 L116.70,508.48 L117.20,508.60 L117.70,508.71 L118.20,508.83 L118.70,508.94 L119.20,509.05 L119.70,509.16 L120.20,509.27 L120.70,509.38 L121.20,509.48 L121.70,509.59 L122.20,509.70 L122.70,509.80 L123.20,509.91 L123.70,510.01 L124.20,510.11 L124.70,510.21 L125.20,510.32 L125.70,510.42 L126.20,510.52 L126.70,510.62 L127.20,510.72 L128.90,511.05 L129.20,511.11 L131.20,511.49 L133.20,511.87 L135.20,512.23 L137.20,512.59 L139.20,512.94 L141.20,513.28 L143.20,513.61 L145.00,513.90 L145.20,513.93 L147.20,514.25 L149.20,514.55 L151.20,514.85 L153.20,515.15 L155.20,515.43 L157.20,515.71 L159.20,515.99 L160.00,516.10 L161.20,516.26 L163.20,516.54 L165.20,516.80 L167.20,517.07 L169.20,517.33 L171.20,517.58 L173.20,517.82 L175.20,518.06 L176.50,518.20 L177.20,518.28 L179.20,518.49 L181.20,518.70 L183.20,518.90 L185.20,519.09 L187.20,519.28 L189.20,519.47 L191.20,519.65 L193.20,519.83 L195.20,520.00 L197.20,520.17 L197.60,520.20 L199.20,520.33 L201.20,520.49 L203.20,520.64 L205.20,520.79 L207.20,520.94 L209.20,521.08 L211.20,521.23 L213.20,521.37 L215.20,521.51 L217.20,521.65 L219.20,521.79 L221.20,521.93 L223.20,522.07 L225.00,522.20 L225.20,522.21 L227.20,522.36 L229.20,522.51 L231.20,522.66 L233.20,522.81 L235.20,522.97 L237.20,523.12 L239.20,523.27 L241.20,523.43 L243.20,523.58 L245.20,523.73 L247.20,523.89 L249.20,524.04 L251.20,524.19 L253.20,524.33 L255.20,524.48 L257.20,524.62 L259.20,524.76 L261.20,524.90 L263.20,525.04 L265.20,525.17 L267.20,525.30 L267.20,525.30 L269.20,525.43 L271.20,525.55 L273.20,525.67 L275.20,525.79 L277.20,525.91 L279.20,526.02 L281.20,526.14 L283.20,526.25 L285.20,526.36 L287.20,526.47 L289.20,526.58 L291.20,526.69 L293.20,526.80 L295.20,526.91 L297.20,527.01 L299.20,527.12 L301.20,527.22 L303.20,527.33 L305.20,527.43 L307.20,527.54 L309.20,527.64 L309.30,527.65 L311.20,527.75 L313.20,527.85 L315.20,527.95 L317.20,528.05 L319.20,528.14 L321.20,528.24 L323.20,528.33 L325.20,528.43 L327.20,528.52 L329.20,528.62 L331.20,528.71 L333.20,528.80 L335.20,528.90 L337.20,529.00 L339.20,529.09 L341.20,529.19 L343.20,529.30 L345.20,529.40 L347.20,529.51 L349.20,529.62 L351.20,529.73 L351.50,529.75 L353.20,529.86 L355.20,530.00 L357.20,530.14 L359.20,530.26 L360.00,530.30 L361.20,530.35 L363.20,530.43 L365.20,530.48 L367.20,530.53 L369.20,530.57 L371.20,530.61 L373.20,530.66 L374.40,530.69 L374.90,530.70 L375.40,530.72 L375.90,530.73 L376.40,530.75 L376.90,530.77 L377.40,530.79 L377.90,530.81 L378.40,530.83 L378.90,530.85 L379.40,530.87 L379.90,530.90 L380.40,530.93 L380.90,530.95 L381.40,530.98 L381.90,531.02 L382.40,531.05 L382.90,531.09 L383.10,531.10 L383.40,531.13 L383.90,531.19 L384.40,531.27 L384.90,531.37 L385.40,531.50 L385.90,531.65 L386.40,531.83 L386.90,532.03 L387.40,532.25 L387.60,532.35 L387.90,532.55 L388.40,533.08 L388.90,533.81 L389.40,534.68 L389.90,535.62 L390.20,536.20 L390.40,536.60 L390.90,537.77 L391.40,539.10 L391.90,540.56 L392.40,542.08 L392.80,543.30 L392.90,543.61 L393.40,545.21 L393.90,546.92 L394.40,548.70" fill="none" stroke="#ffa500" stroke-width="1.7" stroke-linejoin="round" stroke-linecap="round"/>
<rect x="53.85" y="346.70" width="342.63" height="240.30" fill="none" stroke="#000" stroke-width="1.05"/>
<text x="225.17" y="333.70" text-anchor="middle">Mass=2e-3 M<tspan dy="2.6" font-size="9.20">sun</tspan></text>
<text x="346.58" y="361.10" text-anchor="end">Peak Emission, Subtracted</text>
<path d="M353.68,357.00H383.28" stroke="#ff0000" stroke-width="1.5" stroke-linecap="round" fill="none"/>
<text x="346.58" y="372.63" text-anchor="end">Integrated Emission, Subtracted</text>
<path d="M353.68,368.53H383.28" stroke="#228b22" stroke-width="1.5" stroke-linecap="round" fill="none"/>
<text x="346.58" y="384.16" text-anchor="end">Peak Emission, Non Subtracted</text>
<path d="M353.68,380.06H383.28" stroke="#0000ff" stroke-width="1.5" stroke-linecap="round" fill="none"/>
<text x="346.58" y="395.69" text-anchor="end">Integrated Emission, Non Subtracted</text>
<path d="M353.68,391.59H383.28" stroke="#ffa500" stroke-width="1.5" stroke-linecap="round" fill="none"/>
<text transform="translate(14.4,466.85) rotate(-90)" text-anchor="middle">Ratio of T<tspan dy="2.6" font-size="9.20">B</tspan><tspan dy="-2.6">/T</tspan><tspan dy="2.6" font-size="9.20">ph</tspan></text>
<text x="224.77" y="620.45" text-anchor="middle">Radius (AU)</text></g>
<g><text x="450.90" y="591.40" text-anchor="end">0</text>
<text x="450.90" y="559.36" text-anchor="end">0.2</text>
<text x="450.90" y="527.32" text-anchor="end">0.4</text>
<text x="450.90" y="495.28" text-anchor="end">0.6</text>
<text x="450.90" y="463.24" text-anchor="end">0.8</text>
<text x="450.90" y="431.20" text-anchor="end">1</text>
<text x="450.90" y="399.16" text-anchor="end">1.2</text>
<text x="450.90" y="367.12" text-anchor="end">1.4</text>
<text x="458.80" y="603.30" text-anchor="middle">0</text>
<text x="529.60" y="603.30" text-anchor="middle">20</text>
<text x="600.40" y="603.30" text-anchor="middle">40</text>
<text x="671.20" y="603.30" text-anchor="middle">60</text>
<text x="742.00" y="603.30" text-anchor="middle">80</text>
<text x="812.80" y="603.30" text-anchor="middle">100</text>
<path d="M457.50,554.96h4.4 M811.50,554.96h-4.4 M457.50,522.92h4.4 M811.50,522.92h-4.4 M457.50,490.88h4.4 M811.50,490.88h-4.4 M457.50,458.84h4.4 M811.50,458.84h-4.4 M457.50,426.80h4.4 M811.50,426.80h-4.4 M457.50,394.76h4.4 M811.50,394.76h-4.4 M457.50,362.72h4.4 M811.50,362.72h-4.4 M528.30,587.00v-4.4 M528.30,346.70v4.4 M599.10,587.00v-4.4 M599.10,346.70v4.4 M669.90,587.00v-4.4 M669.90,346.70v4.4 M740.70,587.00v-4.4 M740.70,346.70v4.4" stroke="#000" stroke-width="1.05" fill="none"/>
<path d="M461.40,430.10 L461.90,429.85 L462.40,429.60 L462.90,429.37 L463.40,429.15 L463.90,428.95 L464.40,428.77 L464.90,428.61 L465.30,428.50 L465.40,428.48 L465.90,428.35 L466.40,428.24 L466.90,428.13 L467.40,428.02 L467.90,427.93 L468.40,427.85 L468.90,427.77 L469.40,427.71 L469.90,427.66 L470.10,427.65 L470.40,427.63 L470.90,427.60 L471.40,427.57 L471.90,427.54 L472.40,427.51 L472.90,427.48 L473.40,427.46 L473.90,427.44 L474.40,427.41 L474.90,427.39 L475.40,427.37 L475.90,427.35 L476.40,427.34 L476.90,427.32 L477.40,427.31 L477.90,427.29 L478.40,427.28 L478.90,427.26 L479.40,427.25 L479.90,427.24 L480.40,427.23 L480.90,427.22 L481.40,427.21 L481.90,427.20 L482.10,427.20 L482.40,427.20 L482.90,427.19 L483.40,427.18 L483.90,427.17 L484.40,427.16 L484.90,427.16 L485.40,427.15 L485.90,427.14 L486.40,427.13 L486.90,427.12 L487.40,427.12 L487.90,427.11 L488.40,427.10 L488.90,427.10 L489.40,427.09 L489.90,427.08 L490.40,427.08 L490.90,427.07 L491.40,427.06 L491.90,427.06 L492.40,427.05 L492.90,427.04 L493.40,427.04 L493.90,427.03 L494.40,427.02 L494.90,427.02 L495.40,427.01 L495.90,427.01 L496.40,427.00 L496.90,427.00 L497.40,426.99 L497.90,426.98 L498.40,426.98 L498.90,426.97 L499.40,426.97 L499.90,426.96 L500.40,426.96 L500.90,426.95 L501.40,426.95 L501.90,426.94 L502.40,426.94 L502.90,426.94 L503.40,426.93 L503.90,426.93 L504.40,426.92 L504.90,426.92 L505.40,426.92 L505.90,426.91 L506.40,426.91 L506.90,426.90 L507.40,426.90 L507.90,426.90 L508.40,426.89 L508.90,426.89 L509.40,426.89 L509.90,426.89 L510.40,426.88 L510.90,426.88 L511.40,426.88 L511.90,426.87 L512.40,426.87 L512.90,426.87 L513.40,426.87 L513.90,426.87 L514.40,426.86 L514.90,426.86 L515.40,426.86 L515.90,426.86 L516.40,426.86 L516.90,426.86 L517.40,426.85 L517.90,426.85 L518.40,426.85 L518.90,426.85 L519.40,426.85 L519.90,426.85 L520.00,426.85 L520.40,426.85 L520.90,426.85 L521.40,426.85 L521.90,426.85 L522.40,426.85 L522.90,426.85 L523.40,426.85 L523.90,426.85 L524.40,426.84 L524.90,426.84 L525.40,426.84 L525.90,426.84 L526.40,426.84 L526.90,426.84 L527.40,426.84 L527.90,426.84 L528.40,426.84 L528.90,426.84 L529.40,426.84 L529.90,426.84 L530.40,426.84 L530.90,426.84 L531.40,426.84 L533.40,426.83 L535.40,426.83 L537.40,426.83 L539.40,426.83 L541.40,426.82 L543.40,426.82 L545.40,426.82 L547.40,426.82 L549.40,426.82 L551.40,426.81 L553.40,426.81 L555.40,426.81 L557.40,426.81 L559.40,426.81 L561.40,426.80 L563.40,426.80 L565.40,426.80 L567.40,426.80 L569.40,426.80 L571.40,426.79 L573.40,426.79 L575.40,426.79 L577.40,426.79 L579.40,426.79 L581.40,426.78 L583.40,426.78 L585.40,426.78 L587.40,426.78 L589.40,426.78 L591.40,426.78 L593.40,426.77 L595.40,426.77 L597.40,426.77 L599.40,426.77 L601.40,426.77 L603.40,426.77 L605.40,426.76 L607.40,426.76 L609.40,426.76 L611.40,426.76 L613.40,426.76 L615.40,426.76 L617.40,426.76 L619.40,426.75 L621.40,426.75 L623.40,426.75 L625.40,426.75 L627.40,426.75 L629.40,426.75 L631.40,426.75 L633.40,426.75 L635.40,426.74 L637.40,426.74 L639.40,426.74 L641.40,426.74 L643.40,426.74 L645.40,426.74 L647.40,426.74 L649.40,426.74 L651.40,426.74 L653.40,426.73 L655.40,426.73 L657.40,426.73 L659.40,426.73 L661.40,426.73 L663.40,426.73 L665.40,426.73 L667.40,426.73 L669.40,426.73 L671.40,426.73 L673.40,426.73 L675.40,426.72 L677.40,426.72 L679.40,426.72 L681.40,426.72 L683.40,426.72 L685.40,426.72 L687.40,426.72 L689.40,426.72 L691.40,426.72 L693.40,426.72 L695.40,426.72 L697.40,426.72 L699.40,426.72 L701.40,426.71 L703.40,426.71 L705.40,426.71 L707.40,426.71 L709.40,426.71 L711.40,426.71 L713.40,426.71 L715.40,426.71 L717.40,426.71 L719.40,426.71 L721.40,426.71 L723.40,426.71 L725.40,426.71 L727.40,426.71 L729.40,426.71 L731.40,426.71 L733.40,426.71 L735.40,426.71 L737.40,426.71 L739.40,426.71 L741.40,426.71 L743.40,426.71 L745.40,426.70 L747.40,426.70 L749.40,426.70 L751.40,426.70 L753.40,426.70 L755.40,426.70 L757.40,426.70 L759.40,426.70 L761.40,426.70 L763.40,426.70 L765.40,426.70 L767.40,426.70 L769.40,426.70 L771.40,426.70 L773.40,426.70 L775.40,426.70 L777.40,426.70 L779.40,426.70 L781.40,426.70 L783.40,426.70 L785.40,426.70 L787.40,426.70 L789.40,426.70 L789.50,426.70 L790.00,426.70 L790.50,426.70 L791.00,426.70 L791.50,426.70 L792.00,426.70 L792.50,426.70 L793.00,426.70 L793.50,426.70 L794.00,426.70 L794.50,426.70 L795.00,426.70 L795.50,426.70 L796.00,426.70 L796.50,426.70 L797.00,426.70 L797.50,426.70 L798.00,426.70 L798.50,426.70 L799.00,426.70 L799.50,426.70 L800.00,426.70 L800.50,426.70 L801.00,426.70 L801.50,426.70 L802.00,426.70 L802.50,426.70 L803.00,426.70 L803.50,426.70 L804.00,426.70 L804.50,426.70 L805.00,426.70 L805.50,426.70 L806.00,426.70 L806.50,426.70 L807.00,426.70 L807.50,426.70 L808.00,426.70 L808.50,426.70 L809.00,426.70 L809.50,426.70" fill="none" stroke="#ff0000" stroke-width="1.7" stroke-linejoin="round" stroke-linecap="round"/>
<path d="M461.25,458.40 L461.75,456.53 L462.00,455.50 L462.25,454.10 L462.70,452.20 L462.75,452.22 L463.25,453.74 L463.70,456.05 L463.75,456.31 L464.25,459.84 L464.75,463.30 L465.25,465.65 L465.75,467.63 L466.25,469.43 L466.55,470.50 L466.75,471.22 L467.25,472.96 L467.75,474.63 L468.25,476.22 L468.75,477.70 L469.25,479.10 L469.75,480.44 L470.25,481.73 L470.75,482.95 L471.25,484.11 L471.65,485.00 L471.75,485.22 L472.25,486.27 L472.75,487.29 L473.25,488.26 L473.75,489.19 L474.25,490.07 L474.75,490.90 L475.25,491.70 L475.75,492.48 L476.25,493.24 L476.75,493.98 L477.25,494.70 L477.75,495.40 L478.25,496.09 L478.75,496.75 L479.25,497.40 L479.75,498.04 L480.25,498.66 L480.75,499.26 L481.25,499.84 L481.75,500.41 L482.01,500.70 L482.25,500.96 L482.75,501.50 L483.25,502.03 L483.75,502.54 L484.25,503.04 L484.75,503.53 L485.25,504.00 L485.75,504.47 L486.25,504.92 L486.75,505.37 L487.25,505.81 L487.75,506.24 L488.25,506.67 L488.75,507.09 L489.25,507.50 L489.75,507.91 L490.25,508.32 L490.75,508.72 L491.25,509.12 L491.75,509.51 L492.25,509.89 L492.75,510.27 L493.25,510.64 L493.75,511.01 L494.25,511.36 L494.75,511.71 L495.25,512.04 L495.75,512.36 L496.25,512.68 L496.45,512.80 L496.75,512.98 L497.25,513.27 L497.75,513.56 L498.25,513.84 L498.75,514.11 L499.25,514.37 L499.75,514.63 L500.25,514.89 L500.75,515.14 L501.25,515.38 L501.75,515.62 L502.25,515.86 L502.75,516.09 L503.25,516.32 L503.75,516.55 L504.25,516.78 L504.75,517.00 L505.25,517.22 L505.75,517.43 L506.25,517.64 L506.75,517.85 L507.25,518.06 L507.75,518.26 L508.25,518.46 L508.75,518.65 L509.25,518.85 L509.75,519.04 L510.25,519.23 L510.75,519.42 L510.95,519.50 L511.25,519.61 L511.75,519.80 L512.25,519.99 L512.75,520.17 L513.25,520.35 L513.75,520.53 L514.25,520.71 L514.75,520.88 L515.25,521.05 L515.75,521.22 L516.25,521.38 L516.65,521.50 L516.75,521.53 L517.25,521.68 L517.75,521.83 L518.25,521.98 L518.75,522.12 L519.25,522.27 L519.75,522.41 L520.25,522.56 L520.75,522.70 L521.25,522.84 L521.75,522.98 L522.25,523.11 L522.75,523.25 L523.25,523.39 L523.75,523.52 L524.25,523.65 L524.75,523.79 L525.25,523.92 L525.75,524.05 L526.25,524.17 L526.75,524.30 L527.25,524.43 L527.75,524.55 L528.25,524.68 L528.75,524.80 L529.25,524.92 L529.75,525.04 L530.25,525.16 L530.75,525.28 L531.25,525.40 L533.25,525.86 L535.25,526.31 L537.25,526.74 L538.25,526.95 L539.25,527.16 L541.25,527.56 L543.25,527.96 L545.25,528.34 L547.25,528.71 L549.25,529.07 L551.25,529.42 L553.25,529.76 L555.25,530.09 L557.25,530.42 L559.25,530.74 L559.95,530.85 L561.25,531.05 L563.25,531.36 L565.25,531.66 L567.25,531.96 L569.25,532.25 L571.25,532.53 L573.25,532.81 L575.25,533.08 L577.25,533.34 L579.25,533.60 L581.25,533.85 L581.65,533.90 L583.25,534.10 L585.25,534.34 L587.25,534.57 L589.25,534.80 L591.25,535.02 L593.25,535.24 L595.25,535.45 L597.25,535.67 L599.25,535.88 L601.25,536.08 L603.25,536.29 L603.35,536.30 L605.25,536.50 L607.25,536.70 L609.25,536.90 L611.25,537.11 L613.25,537.31 L615.25,537.51 L617.25,537.70 L619.25,537.90 L621.25,538.09 L623.25,538.27 L625.25,538.45 L627.25,538.63 L629.25,538.81 L631.25,538.98 L631.55,539.00 L633.25,539.14 L635.25,539.30 L637.25,539.46 L639.25,539.62 L641.25,539.77 L643.25,539.92 L645.25,540.07 L647.25,540.22 L649.25,540.36 L651.25,540.50 L653.25,540.64 L655.25,540.78 L657.25,540.92 L659.25,541.06 L661.25,541.19 L663.25,541.33 L665.25,541.46 L667.25,541.59 L669.25,541.73 L671.25,541.86 L673.25,541.99 L674.95,542.10 L675.25,542.12 L677.25,542.25 L679.25,542.38 L681.25,542.51 L683.25,542.64 L685.25,542.77 L687.25,542.90 L689.25,543.03 L691.25,543.16 L693.25,543.29 L695.25,543.41 L697.25,543.54 L699.25,543.66 L701.25,543.78 L703.25,543.90 L705.25,544.01 L707.25,544.13 L709.25,544.24 L711.25,544.35 L713.25,544.45 L715.25,544.55 L717.25,544.65 L718.25,544.70 L719.25,544.75 L721.25,544.84 L723.25,544.93 L725.25,545.02 L727.25,545.10 L729.25,545.18 L731.25,545.26 L733.25,545.34 L735.25,545.42 L737.25,545.50 L739.25,545.57 L741.25,545.64 L743.25,545.72 L745.25,545.79 L747.25,545.86 L749.25,545.94 L751.25,546.01 L753.25,546.08 L755.25,546.16 L757.25,546.23 L759.25,546.31 L761.25,546.38 L761.65,546.40 L763.25,546.46 L765.25,546.54 L767.25,546.62 L769.25,546.69 L771.25,546.77 L773.25,546.85 L775.25,546.93 L777.25,547.00 L779.25,547.08 L781.25,547.16 L782.35,547.20 L783.25,547.23 L785.25,547.31 L787.25,547.39 L789.25,547.46 L789.35,547.46 L789.85,547.48 L790.35,547.50 L790.85,547.52 L791.35,547.54 L791.85,547.56 L792.35,547.58 L792.85,547.60 L793.35,547.62 L793.85,547.64 L794.35,547.66 L794.85,547.68 L795.25,547.70 L795.35,547.70 L795.85,547.72 L796.35,547.74 L796.85,547.76 L797.35,547.77 L797.85,547.79 L798.35,547.81 L798.85,547.83 L799.35,547.85 L799.85,547.87 L800.35,547.90 L800.85,547.94 L801.35,547.97 L801.65,548.00 L801.85,548.02 L802.35,548.11 L802.85,548.24 L803.35,548.41 L803.85,548.62 L804.35,548.85 L804.85,549.10 L805.35,549.42 L805.85,549.85 L806.35,550.37 L806.85,550.95 L807.35,551.57 L807.45,551.70 L807.85,552.25 L808.35,553.05 L808.85,553.94 L809.35,554.90" fill="none" stroke="#228b22" stroke-width="1.7" stroke-linejoin="round" stroke-linecap="round"/>
<path d="M461.00,422.80 L461.50,424.16 L462.00,425.36 L462.50,426.05 L462.60,426.10 L463.00,426.20 L463.50,426.31 L464.00,426.41 L464.50,426.48 L465.00,426.53 L465.50,426.57 L466.00,426.59 L466.50,426.60 L467.00,426.60 L467.50,426.60 L468.00,426.60 L468.50,426.60 L469.00,426.60 L469.50,426.60 L470.00,426.60 L470.50,426.60 L471.00,426.60 L471.50,426.60 L472.00,426.60 L472.50,426.61 L473.00,426.61 L473.50,426.61 L474.00,426.61 L474.50,426.61 L475.00,426.61 L475.50,426.61 L476.00,426.61 L476.50,426.61 L477.00,426.61 L477.50,426.61 L478.00,426.61 L478.50,426.61 L479.00,426.61 L479.50,426.61 L480.00,426.61 L480.50,426.61 L481.00,426.61 L481.50,426.61 L482.00,426.61 L482.50,426.61 L483.00,426.61 L483.50,426.61 L484.00,426.61 L484.50,426.61 L485.00,426.62 L485.50,426.62 L486.00,426.62 L486.50,426.62 L487.00,426.62 L487.50,426.62 L488.00,426.62 L488.50,426.62 L489.00,426.62 L489.50,426.62 L490.00,426.62 L490.50,426.62 L491.00,426.62 L491.50,426.62 L492.00,426.62 L492.50,426.62 L493.00,426.62 L493.50,426.62 L494.00,426.62 L494.50,426.62 L495.00,426.62 L495.50,426.62 L496.00,426.62 L496.50,426.62 L497.00,426.62 L497.50,426.62 L498.00,426.62 L498.50,426.63 L499.00,426.63 L499.50,426.63 L500.00,426.63 L500.50,426.63 L501.00,426.63 L501.50,426.63 L502.00,426.63 L502.50,426.63 L503.00,426.63 L503.50,426.63 L504.00,426.63 L504.50,426.63 L505.00,426.63 L505.50,426.63 L506.00,426.63 L506.50,426.63 L507.00,426.63 L507.50,426.63 L508.00,426.63 L508.50,426.63 L509.00,426.63 L509.50,426.63 L510.00,426.63 L510.50,426.63 L511.00,426.63 L511.50,426.63 L512.00,426.63 L512.50,426.63 L513.00,426.63 L513.50,426.64 L514.00,426.64 L514.50,426.64 L515.00,426.64 L515.50,426.64 L516.00,426.64 L516.50,426.64 L517.00,426.64 L517.50,426.64 L518.00,426.64 L518.50,426.64 L519.00,426.64 L519.50,426.64 L520.00,426.64 L520.50,426.64 L521.00,426.64 L521.50,426.64 L522.00,426.64 L522.50,426.64 L523.00,426.64 L523.50,426.64 L524.00,426.64 L524.50,426.64 L525.00,426.64 L525.50,426.64 L526.00,426.64 L526.50,426.64 L527.00,426.64 L527.50,426.64 L528.00,426.64 L528.50,426.64 L529.00,426.64 L529.50,426.65 L530.00,426.65 L530.50,426.65 L531.00,426.65 L533.00,426.65 L535.00,426.65 L537.00,426.65 L539.00,426.65 L541.00,426.65 L543.00,426.65 L545.00,426.65 L547.00,426.65 L549.00,426.66 L551.00,426.66 L553.00,426.66 L555.00,426.66 L557.00,426.66 L559.00,426.66 L561.00,426.66 L563.00,426.66 L565.00,426.66 L567.00,426.66 L569.00,426.66 L571.00,426.67 L573.00,426.67 L575.00,426.67 L577.00,426.67 L579.00,426.67 L581.00,426.67 L583.00,426.67 L585.00,426.67 L587.00,426.67 L589.00,426.67 L591.00,426.67 L593.00,426.67 L595.00,426.67 L597.00,426.68 L599.00,426.68 L601.00,426.68 L603.00,426.68 L605.00,426.68 L607.00,426.68 L609.00,426.68 L611.00,426.68 L613.00,426.68 L615.00,426.68 L617.00,426.68 L619.00,426.68 L621.00,426.68 L623.00,426.68 L625.00,426.68 L627.00,426.68 L629.00,426.68 L631.00,426.69 L633.00,426.69 L635.00,426.69 L637.00,426.69 L639.00,426.69 L641.00,426.69 L643.00,426.69 L645.00,426.69 L647.00,426.69 L649.00,426.69 L651.00,426.69 L653.00,426.69 L655.00,426.69 L657.00,426.69 L659.00,426.69 L661.00,426.69 L663.00,426.69 L665.00,426.69 L667.00,426.69 L669.00,426.69 L671.00,426.69 L673.00,426.69 L675.00,426.69 L677.00,426.69 L679.00,426.69 L681.00,426.69 L683.00,426.69 L685.00,426.69 L687.00,426.70 L689.00,426.70 L691.00,426.70 L693.00,426.70 L695.00,426.70 L697.00,426.70 L699.00,426.70 L701.00,426.70 L703.00,426.70 L705.00,426.70 L707.00,426.70 L709.00,426.70 L711.00,426.70 L713.00,426.70 L715.00,426.70 L717.00,426.70 L719.00,426.70 L721.00,426.70 L723.00,426.70 L725.00,426.70 L727.00,426.70 L729.00,426.70 L731.00,426.70 L733.00,426.70 L735.00,426.70 L737.00,426.70 L739.00,426.70 L741.00,426.70 L743.00,426.70 L745.00,426.70 L747.00,426.70 L749.00,426.70 L751.00,426.70 L753.00,426.70 L755.00,426.70 L757.00,426.70 L759.00,426.70 L761.00,426.70 L763.00,426.70 L765.00,426.70 L767.00,426.70 L769.00,426.70 L771.00,426.70 L773.00,426.70 L775.00,426.70 L777.00,426.70 L779.00,426.70 L781.00,426.70 L783.00,426.70 L785.00,426.70 L787.00,426.70 L789.00,426.70 L789.50,426.70 L790.00,426.70 L790.50,426.70 L791.00,426.70 L791.50,426.70 L792.00,426.70 L792.50,426.70 L793.00,426.70 L793.50,426.70 L794.00,426.70 L794.50,426.70 L795.00,426.70 L795.50,426.70 L796.00,426.70 L796.50,426.70 L797.00,426.70 L797.50,426.70 L798.00,426.70 L798.50,426.70 L799.00,426.70 L799.50,426.70 L800.00,426.70 L800.50,426.70 L801.00,426.70 L801.50,426.70 L802.00,426.70 L802.50,426.70 L803.00,426.70 L803.50,426.70 L804.00,426.70 L804.50,426.70 L805.00,426.70 L805.50,426.70 L806.00,426.70 L806.50,426.70 L807.00,426.70 L807.50,426.70 L808.00,426.70 L808.50,426.70 L809.00,426.70 L809.50,426.70" fill="none" stroke="#0000ff" stroke-width="1.7" stroke-linejoin="round" stroke-linecap="round"/>
<path d="M461.20,450.60 L461.70,449.79 L462.20,449.41 L462.70,449.31 L463.00,449.30 L463.20,449.65 L463.70,452.58 L464.15,455.85 L464.20,456.17 L464.70,459.80 L465.20,463.10 L465.70,465.45 L466.20,467.43 L466.70,469.23 L467.00,470.30 L467.20,471.02 L467.70,472.76 L468.20,474.43 L468.70,476.02 L469.20,477.50 L469.70,478.90 L470.20,480.24 L470.70,481.53 L471.20,482.75 L471.70,483.91 L472.10,484.80 L472.20,485.02 L472.70,486.07 L473.20,487.09 L473.70,488.06 L474.20,488.99 L474.70,489.87 L475.20,490.70 L475.70,491.50 L476.20,492.28 L476.70,493.04 L477.20,493.78 L477.70,494.50 L478.20,495.20 L478.70,495.89 L479.20,496.55 L479.70,497.20 L480.20,497.84 L480.70,498.46 L481.20,499.06 L481.70,499.64 L482.20,500.21 L482.46,500.50 L482.70,500.76 L483.20,501.30 L483.70,501.83 L484.20,502.34 L484.70,502.84 L485.20,503.33 L485.70,503.80 L486.20,504.27 L486.70,504.72 L487.20,505.17 L487.70,505.61 L488.20,506.04 L488.70,506.47 L489.20,506.89 L489.70,507.30 L490.20,507.71 L490.70,508.12 L491.20,508.52 L491.70,508.92 L492.20,509.31 L492.70,509.69 L493.20,510.07 L493.70,510.44 L494.20,510.81 L494.70,511.16 L495.20,511.51 L495.70,511.84 L496.20,512.16 L496.70,512.48 L496.90,512.60 L497.20,512.78 L497.70,513.07 L498.20,513.36 L498.70,513.64 L499.20,513.91 L499.70,514.17 L500.20,514.43 L500.70,514.69 L501.20,514.94 L501.70,515.18 L502.20,515.42 L502.70,515.66 L503.20,515.89 L503.70,516.12 L504.20,516.35 L504.70,516.58 L505.20,516.80 L505.70,517.02 L506.20,517.23 L506.70,517.44 L507.20,517.65 L507.70,517.86 L508.20,518.06 L508.70,518.26 L509.20,518.45 L509.70,518.65 L510.20,518.84 L510.70,519.03 L511.20,519.22 L511.40,519.30 L511.70,519.41 L512.20,519.60 L512.70,519.79 L513.20,519.97 L513.70,520.15 L514.20,520.33 L514.70,520.51 L515.20,520.68 L515.70,520.85 L516.20,521.02 L516.70,521.18 L517.10,521.30 L517.20,521.33 L517.70,521.48 L518.20,521.63 L518.70,521.78 L519.20,521.92 L519.70,522.07 L520.20,522.21 L520.70,522.36 L521.20,522.50 L521.70,522.64 L522.20,522.78 L522.70,522.91 L523.20,523.05 L523.70,523.19 L524.20,523.32 L524.70,523.45 L525.20,523.59 L525.70,523.72 L526.20,523.85 L526.70,523.97 L527.20,524.10 L527.70,524.23 L528.20,524.35 L528.70,524.48 L529.20,524.60 L529.70,524.72 L530.20,524.84 L530.70,524.96 L531.20,525.08 L533.20,525.54 L535.20,526.00 L537.20,526.43 L538.70,526.75 L539.20,526.85 L541.20,527.26 L543.20,527.66 L545.20,528.04 L547.20,528.42 L549.20,528.78 L551.20,529.13 L553.20,529.47 L555.20,529.81 L557.20,530.14 L559.20,530.46 L560.40,530.65 L561.20,530.78 L563.20,531.09 L565.20,531.39 L567.20,531.69 L569.20,531.98 L571.20,532.26 L573.20,532.54 L575.20,532.81 L577.20,533.08 L579.20,533.33 L581.20,533.59 L582.10,533.70 L583.20,533.84 L585.20,534.08 L587.20,534.31 L589.20,534.54 L591.20,534.76 L593.20,534.98 L595.20,535.20 L597.20,535.41 L599.20,535.62 L601.20,535.83 L603.20,536.04 L603.80,536.10 L605.20,536.24 L607.20,536.45 L609.20,536.65 L611.20,536.86 L613.20,537.06 L615.20,537.26 L617.20,537.45 L619.20,537.65 L621.20,537.84 L623.20,538.03 L625.20,538.21 L627.20,538.39 L629.20,538.56 L631.20,538.73 L632.00,538.80 L633.20,538.90 L635.20,539.06 L637.20,539.22 L639.20,539.38 L641.20,539.53 L643.20,539.68 L645.20,539.83 L647.20,539.98 L649.20,540.12 L651.20,540.27 L653.20,540.41 L655.20,540.55 L657.20,540.69 L659.20,540.82 L661.20,540.96 L663.20,541.10 L665.20,541.23 L667.20,541.36 L669.20,541.49 L671.20,541.63 L673.20,541.76 L675.20,541.89 L675.40,541.90 L677.20,542.02 L679.20,542.15 L681.20,542.28 L683.20,542.41 L685.20,542.54 L687.20,542.67 L689.20,542.80 L691.20,542.93 L693.20,543.06 L695.20,543.18 L697.20,543.31 L699.20,543.43 L701.20,543.55 L703.20,543.67 L705.20,543.79 L707.20,543.90 L709.20,544.01 L711.20,544.12 L713.20,544.23 L715.20,544.33 L717.20,544.43 L718.70,544.50 L719.20,544.52 L721.20,544.62 L723.20,544.71 L725.20,544.79 L727.20,544.88 L729.20,544.96 L731.20,545.04 L733.20,545.12 L735.20,545.20 L737.20,545.28 L739.20,545.35 L741.20,545.43 L743.20,545.50 L745.20,545.57 L747.20,545.65 L749.20,545.72 L751.20,545.79 L753.20,545.86 L755.20,545.94 L757.20,546.01 L759.20,546.09 L761.20,546.17 L762.10,546.20 L763.20,546.24 L765.20,546.32 L767.20,546.40 L769.20,546.48 L771.20,546.55 L773.20,546.63 L775.20,546.71 L777.20,546.78 L779.20,546.86 L781.20,546.94 L782.80,547.00 L783.20,547.02 L785.20,547.09 L787.20,547.17 L789.20,547.24 L789.80,547.26 L790.30,547.28 L790.80,547.30 L791.30,547.32 L791.80,547.34 L792.30,547.36 L792.80,547.38 L793.30,547.40 L793.80,547.42 L794.30,547.44 L794.80,547.46 L795.30,547.48 L795.70,547.50 L795.80,547.50 L796.30,547.52 L796.80,547.54 L797.30,547.56 L797.80,547.57 L798.30,547.59 L798.80,547.61 L799.30,547.63 L799.80,547.65 L800.30,547.67 L800.80,547.70 L801.30,547.74 L801.80,547.77 L802.10,547.80 L802.30,547.82 L802.80,547.91 L803.30,548.04 L803.80,548.21 L804.30,548.42 L804.80,548.65 L805.30,548.90 L805.80,549.22 L806.30,549.65 L806.80,550.17 L807.30,550.75 L807.80,551.37 L807.90,551.50 L808.30,552.05 L808.80,552.85 L809.30,553.74 L809.80,554.70" fill="none" stroke="#ffa500" stroke-width="1.7" stroke-linejoin="round" stroke-linecap="round"/>
<rect x="457.50" y="346.70" width="354.00" height="240.30" fill="none" stroke="#000" stroke-width="1.05"/>
<text x="634.50" y="333.70" text-anchor="middle">Mass=2e-5 M<tspan dy="2.6" font-size="9.20">sun</tspan></text>
<text x="761.60" y="361.10" text-anchor="end">Peak Emission, Subtracted</text>
<path d="M768.70,357.00H798.30" stroke="#ff0000" stroke-width="1.5" stroke-linecap="round" fill="none"/>
<text x="761.60" y="372.63" text-anchor="end">Integrated Emission, Subtracted</text>
<path d="M768.70,368.53H798.30" stroke="#228b22" stroke-width="1.5" stroke-linecap="round" fill="none"/>
<text x="761.60" y="384.16" text-anchor="end">Peak Emission, Non Subtracted</text>
<path d="M768.70,380.06H798.30" stroke="#0000ff" stroke-width="1.5" stroke-linecap="round" fill="none"/>
<text x="761.60" y="395.69" text-anchor="end">Integrated Emission, Non Subtracted</text>
<path d="M768.70,391.59H798.30" stroke="#ffa500" stroke-width="1.5" stroke-linecap="round" fill="none"/>
<text x="634.10" y="620.45" text-anchor="middle">Radius (AU)</text></g>
</svg>
</body></html>
